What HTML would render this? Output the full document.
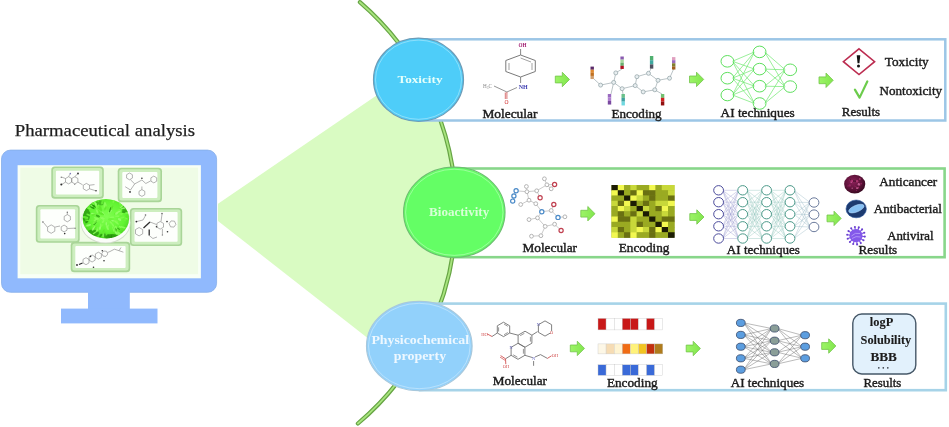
<!DOCTYPE html>
<html><head><meta charset="utf-8"><title>Pharmaceutical analysis</title>
<style>html,body{margin:0;padding:0;background:#fff;width:949px;height:427px;overflow:hidden}svg{display:block;filter:blur(0.35px)}</style>
</head><body>
<svg width="949" height="427" viewBox="0 0 949 427"><path d="M218,203.8 L416.0,68.5 A277.0,277.0 0 0 1 407.2,369.0 L218,221 Z" fill="#d9fbc2"/>
<path d="M359.9,2.2 A277.0,277.0 0 0 1 357.9,423.5" fill="none" stroke="#66a444" stroke-width="4.2" stroke-linecap="round"/>
<path d="M359.9,2.2 A277.0,277.0 0 0 1 357.9,423.5" fill="none" stroke="#a8e47e" stroke-width="1.8" stroke-linecap="round"/>
<rect x="420" y="39.3" width="525.3" height="81.2" fill="#fff" stroke="#9cc6e6" stroke-width="2.5"/>
<rect x="455" y="168.5" width="489.6" height="88.7" fill="#fff" stroke="#88d68a" stroke-width="2.6"/>
<rect x="420" y="303.6" width="525.8" height="86.6" fill="#fff" stroke="#a6d3e8" stroke-width="2.6"/>
<ellipse cx="418.5" cy="79.7" rx="45" ry="41.6" fill="#4ecdf9" stroke="#6c9cb8" stroke-width="1.2"/>
<ellipse cx="418.5" cy="79.7" rx="43" ry="39.6" fill="none" stroke="#ffffff" stroke-opacity="0.35" stroke-width="1"/>
<ellipse cx="454.3" cy="212.3" rx="50.7" ry="45.1" fill="#64fe65" stroke="#6cc070" stroke-width="1.2"/>
<ellipse cx="454.3" cy="212.3" rx="48.7" ry="43.1" fill="none" stroke="#ffffff" stroke-opacity="0.35" stroke-width="1"/>
<ellipse cx="419.3" cy="346.0" rx="52.8" ry="44.7" fill="#92d1fb" stroke="#a8c8dc" stroke-width="1.2"/>
<ellipse cx="419.3" cy="346.0" rx="50.8" ry="42.7" fill="none" stroke="#ffffff" stroke-opacity="0.35" stroke-width="1"/>
<text x="397.6" y="82.7" font-family="'Liberation Serif', serif" font-weight="bold" font-size="11.2" fill="#e6fffa" textLength="44.9" lengthAdjust="spacingAndGlyphs">Toxicity</text>
<text x="429.1" y="216.2" font-family="'Liberation Serif', serif" font-weight="bold" font-size="12.2" fill="#d8ffd6" textLength="60.1" lengthAdjust="spacingAndGlyphs">Bioactivity</text>
<text x="371.4" y="344.2" font-family="'Liberation Serif', serif" font-weight="bold" font-size="11.6" fill="#eef8ff" textLength="97.7" lengthAdjust="spacingAndGlyphs">Physicochemical</text>
<text x="393.7" y="359.5" font-family="'Liberation Serif', serif" font-weight="bold" font-size="11.6" fill="#eef8ff" textLength="52.5" lengthAdjust="spacingAndGlyphs">property</text>
<rect x="1.5" y="150.1" width="215.1" height="142.2" rx="9" fill="#90b9fd"/>
<rect x="1.5" y="150.1" width="215.1" height="142.2" rx="9" fill="none" stroke="#86aee8" stroke-width="0.8"/>
<rect x="88" y="291" width="41.8" height="18" fill="#90b9fd"/>
<rect x="61" y="308.6" width="96.5" height="14.8" fill="#90b9fd"/>
<rect x="17.6" y="165.2" width="183.3" height="113.1" fill="#f8fff6"/>
<rect x="20.3" y="167.6" width="177.8" height="106.6" fill="#effce6"/>
<text x="14.8" y="136.3" font-family="'Liberation Serif', serif" font-size="17" fill="#1e1e1e" stroke="#1e1e1e" stroke-width="0.25" textLength="180.2" lengthAdjust="spacingAndGlyphs">Pharmaceutical analysis</text>
<rect x="51.3" y="166.5" width="52.5" height="32.19999999999999" rx="3.5" fill="#a9d598"/>
<rect x="52.9" y="168.1" width="49.3" height="28.99999999999999" rx="2.5" fill="#cdeebf"/>
<rect x="55.9" y="170.7" width="43.3" height="23.79999999999999" rx="1" fill="#fdfffc"/>
<rect x="117.7" y="167.7" width="44.3" height="34.5" rx="3.5" fill="#a9d598"/>
<rect x="119.3" y="169.29999999999998" width="41.099999999999994" height="31.3" rx="2.5" fill="#cdeebf"/>
<rect x="122.3" y="171.89999999999998" width="35.099999999999994" height="26.1" rx="1" fill="#fdfffc"/>
<rect x="35.8" y="205" width="43.900000000000006" height="37.80000000000001" rx="3.5" fill="#a9d598"/>
<rect x="37.4" y="206.6" width="40.7" height="34.60000000000001" rx="2.5" fill="#cdeebf"/>
<rect x="40.4" y="209.2" width="34.7" height="29.400000000000013" rx="1" fill="#fdfffc"/>
<rect x="129.9" y="207.9" width="52.29999999999998" height="38.099999999999994" rx="3.5" fill="#a9d598"/>
<rect x="131.5" y="209.5" width="49.09999999999998" height="34.89999999999999" rx="2.5" fill="#cdeebf"/>
<rect x="134.5" y="212.1" width="43.09999999999998" height="29.699999999999996" rx="1" fill="#fdfffc"/>
<rect x="70.7" y="241.8" width="59.499999999999986" height="30.399999999999977" rx="3.5" fill="#a9d598"/>
<rect x="72.3" y="243.4" width="56.29999999999998" height="27.199999999999978" rx="2.5" fill="#cdeebf"/>
<rect x="75.3" y="246.0" width="50.29999999999998" height="21.99999999999998" rx="1" fill="#fdfffc"/>
<defs><linearGradient id="dish" x1="0" y1="0" x2="0" y2="1"><stop offset="0" stop-color="#f4f8f0"/><stop offset="0.6" stop-color="#eef2ea"/><stop offset="1" stop-color="#cfd8c8"/></linearGradient></defs>
<ellipse cx="105.6" cy="222.6" rx="25" ry="21" fill="#d2dccb"/>
<ellipse cx="105.6" cy="222.2" rx="24.4" ry="20.4" fill="#fafdf8"/>
<defs><radialGradient id="pl" cx="0.52" cy="0.45" r="0.6"><stop offset="0" stop-color="#80ff50"/><stop offset="0.65" stop-color="#62f432"/><stop offset="1" stop-color="#44cc1c"/></radialGradient></defs>
<ellipse cx="105.9" cy="218.8" rx="23.2" ry="19.7" fill="url(#pl)"/>
<clipPath id="plc"><ellipse cx="105.9" cy="218.8" rx="23.2" ry="19.7"/></clipPath>
<g clip-path="url(#plc)"><ellipse cx="86" cy="215" rx="4" ry="7" fill="#22900a" opacity="0.7"/><ellipse cx="93" cy="233" rx="6" ry="3.5" fill="#22900a" opacity="0.7"/><ellipse cx="112" cy="237" rx="7" ry="3" fill="#1e8606" opacity="0.7"/><ellipse cx="125" cy="209" rx="3" ry="4" fill="#2c9e12" opacity="0.7"/><ellipse cx="100" cy="203" rx="4" ry="2.5" fill="#34a818" opacity="0.7"/><ellipse cx="102.0" cy="225.4" rx="1.8" ry="0.9" transform="rotate(133 102.0 225.4)" fill="#7cfc48" opacity="0.85"/><ellipse cx="115.5" cy="213.2" rx="1.7" ry="0.8" transform="rotate(306 115.5 213.2)" fill="#5ee82a" opacity="0.85"/><ellipse cx="110.2" cy="211.7" rx="2.5" ry="0.8" transform="rotate(320 110.2 211.7)" fill="#9aff70" opacity="0.85"/><ellipse cx="112.0" cy="217.5" rx="2.5" ry="0.9" transform="rotate(347 112.0 217.5)" fill="#8cff5a" opacity="0.85"/><ellipse cx="88.5" cy="212.2" rx="2.2" ry="0.9" transform="rotate(209 88.5 212.2)" fill="#33a614" opacity="0.85"/><ellipse cx="112.1" cy="220.3" rx="2.1" ry="0.9" transform="rotate(19 112.1 220.3)" fill="#9aff70" opacity="0.85"/><ellipse cx="93.9" cy="221.4" rx="2.1" ry="0.8" transform="rotate(142 93.9 221.4)" fill="#6cf43a" opacity="0.85"/><ellipse cx="97.6" cy="229.2" rx="2.3" ry="1.0" transform="rotate(105 97.6 229.2)" fill="#7cfc48" opacity="0.85"/><ellipse cx="115.6" cy="229.5" rx="2.5" ry="1.0" transform="rotate(34 115.6 229.5)" fill="#33a614" opacity="0.85"/><ellipse cx="111.9" cy="207.6" rx="2.3" ry="1.0" transform="rotate(299 111.9 207.6)" fill="#5ee82a" opacity="0.85"/><ellipse cx="121.3" cy="213.6" rx="2.1" ry="0.9" transform="rotate(352 121.3 213.6)" fill="#7cfc48" opacity="0.85"/><ellipse cx="99.7" cy="206.2" rx="2.3" ry="0.7" transform="rotate(221 99.7 206.2)" fill="#8cff5a" opacity="0.85"/><ellipse cx="111.0" cy="221.9" rx="2.2" ry="1.1" transform="rotate(54 111.0 221.9)" fill="#6cf43a" opacity="0.85"/><ellipse cx="96.4" cy="218.4" rx="2.9" ry="1.0" transform="rotate(198 96.4 218.4)" fill="#8cff5a" opacity="0.85"/><ellipse cx="103.5" cy="230.8" rx="1.8" ry="0.7" transform="rotate(123 103.5 230.8)" fill="#5ee82a" opacity="0.85"/><ellipse cx="107.5" cy="227.9" rx="2.1" ry="0.7" transform="rotate(68 107.5 227.9)" fill="#9aff70" opacity="0.85"/><ellipse cx="88.5" cy="214.9" rx="2.4" ry="0.9" transform="rotate(202 88.5 214.9)" fill="#6cf43a" opacity="0.85"/><ellipse cx="103.4" cy="213.5" rx="2.2" ry="0.7" transform="rotate(238 103.4 213.5)" fill="#9aff70" opacity="0.85"/><ellipse cx="101.8" cy="214.0" rx="1.8" ry="0.9" transform="rotate(225 101.8 214.0)" fill="#6cf43a" opacity="0.85"/><ellipse cx="120.2" cy="227.1" rx="1.7" ry="0.7" transform="rotate(43 120.2 227.1)" fill="#8cff5a" opacity="0.85"/><ellipse cx="93.1" cy="229.2" rx="1.8" ry="1.0" transform="rotate(129 93.1 229.2)" fill="#9aff70" opacity="0.85"/><ellipse cx="122.1" cy="217.6" rx="2.8" ry="1.0" transform="rotate(340 122.1 217.6)" fill="#7cfc48" opacity="0.85"/><ellipse cx="87.2" cy="220.4" rx="2.4" ry="0.7" transform="rotate(195 87.2 220.4)" fill="#6cf43a" opacity="0.85"/><ellipse cx="101.4" cy="217.1" rx="2.0" ry="0.8" transform="rotate(205 101.4 217.1)" fill="#7cfc48" opacity="0.85"/><ellipse cx="116.3" cy="233.1" rx="2.0" ry="1.0" transform="rotate(52 116.3 233.1)" fill="#9aff70" opacity="0.85"/><ellipse cx="127.4" cy="216.5" rx="2.0" ry="0.9" transform="rotate(367 127.4 216.5)" fill="#5ee82a" opacity="0.85"/><ellipse cx="103.1" cy="221.6" rx="1.9" ry="0.9" transform="rotate(127 103.1 221.6)" fill="#8cff5a" opacity="0.85"/><ellipse cx="94.6" cy="232.8" rx="2.2" ry="0.7" transform="rotate(147 94.6 232.8)" fill="#8cff5a" opacity="0.85"/><ellipse cx="107.7" cy="227.1" rx="2.6" ry="0.6" transform="rotate(106 107.7 227.1)" fill="#9aff70" opacity="0.85"/><ellipse cx="117.8" cy="211.9" rx="2.9" ry="1.0" transform="rotate(348 117.8 211.9)" fill="#7cfc48" opacity="0.85"/><ellipse cx="96.1" cy="219.4" rx="3.1" ry="1.0" transform="rotate(151 96.1 219.4)" fill="#8cff5a" opacity="0.85"/><ellipse cx="86.8" cy="222.1" rx="1.8" ry="0.7" transform="rotate(150 86.8 222.1)" fill="#1e8c08" opacity="0.85"/><ellipse cx="123.3" cy="208.3" rx="2.7" ry="0.8" transform="rotate(350 123.3 208.3)" fill="#9aff70" opacity="0.85"/><ellipse cx="97.8" cy="215.9" rx="2.4" ry="1.1" transform="rotate(205 97.8 215.9)" fill="#33a614" opacity="0.85"/><ellipse cx="86.5" cy="225.6" rx="1.9" ry="0.9" transform="rotate(133 86.5 225.6)" fill="#6cf43a" opacity="0.85"/><ellipse cx="107.4" cy="206.9" rx="2.8" ry="1.0" transform="rotate(253 107.4 206.9)" fill="#6cf43a" opacity="0.85"/><ellipse cx="95.3" cy="203.1" rx="1.8" ry="0.9" transform="rotate(220 95.3 203.1)" fill="#9aff70" opacity="0.85"/><ellipse cx="120.4" cy="205.8" rx="2.4" ry="1.0" transform="rotate(298 120.4 205.8)" fill="#6cf43a" opacity="0.85"/><ellipse cx="93.6" cy="214.2" rx="2.8" ry="1.0" transform="rotate(199 93.6 214.2)" fill="#9aff70" opacity="0.85"/><ellipse cx="116.0" cy="221.3" rx="2.5" ry="1.0" transform="rotate(21 116.0 221.3)" fill="#7cfc48" opacity="0.85"/><ellipse cx="119.4" cy="211.3" rx="1.9" ry="0.7" transform="rotate(334 119.4 211.3)" fill="#9aff70" opacity="0.85"/><ellipse cx="85.5" cy="217.3" rx="3.0" ry="1.1" transform="rotate(193 85.5 217.3)" fill="#6cf43a" opacity="0.85"/><ellipse cx="105.2" cy="232.9" rx="1.8" ry="0.8" transform="rotate(75 105.2 232.9)" fill="#5ee82a" opacity="0.85"/><ellipse cx="116.6" cy="222.6" rx="3.0" ry="0.7" transform="rotate(40 116.6 222.6)" fill="#8cff5a" opacity="0.85"/><ellipse cx="102.2" cy="202.6" rx="2.0" ry="1.1" transform="rotate(281 102.2 202.6)" fill="#6cf43a" opacity="0.85"/><ellipse cx="93.2" cy="226.4" rx="2.3" ry="0.9" transform="rotate(126 93.2 226.4)" fill="#6cf43a" opacity="0.85"/><ellipse cx="100.6" cy="225.8" rx="2.5" ry="0.8" transform="rotate(98 100.6 225.8)" fill="#8cff5a" opacity="0.85"/><ellipse cx="119.6" cy="219.5" rx="1.8" ry="1.1" transform="rotate(30 119.6 219.5)" fill="#9aff70" opacity="0.85"/><ellipse cx="109.1" cy="236.4" rx="2.8" ry="0.7" transform="rotate(59 109.1 236.4)" fill="#26960c" opacity="0.85"/><ellipse cx="116.6" cy="227.6" rx="2.5" ry="0.9" transform="rotate(42 116.6 227.6)" fill="#8cff5a" opacity="0.85"/><ellipse cx="92.8" cy="218.6" rx="1.7" ry="1.1" transform="rotate(174 92.8 218.6)" fill="#6cf43a" opacity="0.85"/><ellipse cx="92.5" cy="205.1" rx="3.0" ry="0.8" transform="rotate(207 92.5 205.1)" fill="#1e8c08" opacity="0.85"/><ellipse cx="97.0" cy="230.6" rx="1.7" ry="1.0" transform="rotate(128 97.0 230.6)" fill="#8cff5a" opacity="0.85"/><ellipse cx="127.2" cy="210.9" rx="2.1" ry="0.8" transform="rotate(323 127.2 210.9)" fill="#6cf43a" opacity="0.85"/><ellipse cx="107.0" cy="207.4" rx="2.9" ry="1.1" transform="rotate(262 107.0 207.4)" fill="#6cf43a" opacity="0.85"/><ellipse cx="110.6" cy="219.1" rx="2.0" ry="0.8" transform="rotate(14 110.6 219.1)" fill="#6cf43a" opacity="0.85"/><ellipse cx="96.0" cy="204.9" rx="2.2" ry="0.9" transform="rotate(254 96.0 204.9)" fill="#9aff70" opacity="0.85"/><ellipse cx="97.5" cy="200.3" rx="2.2" ry="0.6" transform="rotate(243 97.5 200.3)" fill="#6cf43a" opacity="0.85"/><ellipse cx="110.9" cy="222.5" rx="1.7" ry="0.9" transform="rotate(43 110.9 222.5)" fill="#8cff5a" opacity="0.85"/><ellipse cx="94.1" cy="227.8" rx="2.1" ry="0.8" transform="rotate(124 94.1 227.8)" fill="#9aff70" opacity="0.85"/><ellipse cx="114.7" cy="229.2" rx="2.5" ry="0.7" transform="rotate(80 114.7 229.2)" fill="#8cff5a" opacity="0.85"/><ellipse cx="119.0" cy="215.8" rx="1.7" ry="0.7" transform="rotate(339 119.0 215.8)" fill="#7cfc48" opacity="0.85"/><ellipse cx="99.6" cy="209.9" rx="1.7" ry="0.8" transform="rotate(224 99.6 209.9)" fill="#7cfc48" opacity="0.85"/><ellipse cx="110.8" cy="219.2" rx="3.1" ry="1.0" transform="rotate(-6 110.8 219.2)" fill="#6cf43a" opacity="0.85"/><ellipse cx="118.4" cy="233.5" rx="2.1" ry="1.1" transform="rotate(50 118.4 233.5)" fill="#9aff70" opacity="0.85"/><ellipse cx="117.8" cy="231.7" rx="2.7" ry="0.9" transform="rotate(70 117.8 231.7)" fill="#7cfc48" opacity="0.85"/><ellipse cx="88.7" cy="225.3" rx="2.5" ry="1.0" transform="rotate(167 88.7 225.3)" fill="#9aff70" opacity="0.85"/><ellipse cx="125.2" cy="219.8" rx="1.7" ry="0.9" transform="rotate(-15 125.2 219.8)" fill="#6cf43a" opacity="0.85"/><ellipse cx="120.1" cy="215.1" rx="2.6" ry="0.9" transform="rotate(352 120.1 215.1)" fill="#7cfc48" opacity="0.85"/><ellipse cx="102.7" cy="218.4" rx="1.7" ry="0.9" transform="rotate(196 102.7 218.4)" fill="#9aff70" opacity="0.85"/><ellipse cx="105.8" cy="204.6" rx="2.8" ry="0.7" transform="rotate(255 105.8 204.6)" fill="#8cff5a" opacity="0.85"/><ellipse cx="96.9" cy="207.3" rx="2.7" ry="1.0" transform="rotate(233 96.9 207.3)" fill="#7cfc48" opacity="0.85"/><ellipse cx="92.4" cy="207.6" rx="2.6" ry="0.9" transform="rotate(214 92.4 207.6)" fill="#1e8c08" opacity="0.85"/><ellipse cx="99.7" cy="213.0" rx="2.7" ry="0.9" transform="rotate(212 99.7 213.0)" fill="#5ee82a" opacity="0.85"/><ellipse cx="100.5" cy="208.6" rx="2.8" ry="1.1" transform="rotate(242 100.5 208.6)" fill="#5ee82a" opacity="0.85"/><ellipse cx="93.7" cy="214.8" rx="2.3" ry="1.0" transform="rotate(174 93.7 214.8)" fill="#5ee82a" opacity="0.85"/><ellipse cx="121.5" cy="215.6" rx="3.1" ry="0.6" transform="rotate(369 121.5 215.6)" fill="#6cf43a" opacity="0.85"/><ellipse cx="123.0" cy="227.3" rx="2.9" ry="0.9" transform="rotate(14 123.0 227.3)" fill="#8cff5a" opacity="0.85"/><ellipse cx="120.9" cy="207.5" rx="1.9" ry="1.1" transform="rotate(314 120.9 207.5)" fill="#5ee82a" opacity="0.85"/><ellipse cx="100.0" cy="206.7" rx="2.1" ry="1.0" transform="rotate(238 100.0 206.7)" fill="#5ee82a" opacity="0.85"/><ellipse cx="126.2" cy="218.4" rx="1.9" ry="0.6" transform="rotate(23 126.2 218.4)" fill="#7cfc48" opacity="0.85"/><ellipse cx="105.4" cy="208.1" rx="2.5" ry="0.8" transform="rotate(291 105.4 208.1)" fill="#5ee82a" opacity="0.85"/><ellipse cx="95.1" cy="222.8" rx="2.7" ry="0.9" transform="rotate(132 95.1 222.8)" fill="#1e8c08" opacity="0.85"/><ellipse cx="119.7" cy="233.7" rx="2.2" ry="1.1" transform="rotate(38 119.7 233.7)" fill="#8cff5a" opacity="0.85"/><ellipse cx="121.7" cy="206.5" rx="2.8" ry="0.6" transform="rotate(321 121.7 206.5)" fill="#9aff70" opacity="0.85"/><ellipse cx="104.5" cy="205.0" rx="3.1" ry="0.9" transform="rotate(263 104.5 205.0)" fill="#8cff5a" opacity="0.85"/><ellipse cx="113.4" cy="229.4" rx="3.2" ry="0.7" transform="rotate(73 113.4 229.4)" fill="#8cff5a" opacity="0.85"/><ellipse cx="99.0" cy="209.1" rx="2.6" ry="0.6" transform="rotate(217 99.0 209.1)" fill="#5ee82a" opacity="0.85"/><ellipse cx="85.4" cy="218.1" rx="3.2" ry="0.8" transform="rotate(201 85.4 218.1)" fill="#5ee82a" opacity="0.85"/><ellipse cx="112.9" cy="225.1" rx="2.1" ry="0.8" transform="rotate(53 112.9 225.1)" fill="#8cff5a" opacity="0.85"/><ellipse cx="110.1" cy="209.7" rx="2.8" ry="0.7" transform="rotate(286 110.1 209.7)" fill="#26960c" opacity="0.85"/><ellipse cx="103.7" cy="235.1" rx="1.8" ry="0.9" transform="rotate(121 103.7 235.1)" fill="#9aff70" opacity="0.85"/><ellipse cx="91.5" cy="205.0" rx="2.2" ry="0.9" transform="rotate(247 91.5 205.0)" fill="#8cff5a" opacity="0.85"/><ellipse cx="94.3" cy="222.8" rx="2.3" ry="1.0" transform="rotate(137 94.3 222.8)" fill="#7cfc48" opacity="0.85"/><ellipse cx="113.8" cy="200.1" rx="3.1" ry="1.0" transform="rotate(284 113.8 200.1)" fill="#7cfc48" opacity="0.85"/><ellipse cx="120.2" cy="203.0" rx="1.8" ry="1.1" transform="rotate(294 120.2 203.0)" fill="#7cfc48" opacity="0.85"/><ellipse cx="122.4" cy="229.4" rx="2.8" ry="0.6" transform="rotate(18 122.4 229.4)" fill="#5ee82a" opacity="0.85"/><ellipse cx="118.5" cy="228.8" rx="1.8" ry="0.7" transform="rotate(35 118.5 228.8)" fill="#33a614" opacity="0.85"/><ellipse cx="93.6" cy="205.8" rx="3.1" ry="0.7" transform="rotate(219 93.6 205.8)" fill="#1e8c08" opacity="0.85"/><ellipse cx="104.8" cy="235.6" rx="2.3" ry="1.1" transform="rotate(84 104.8 235.6)" fill="#33a614" opacity="0.85"/><ellipse cx="92.9" cy="203.7" rx="1.6" ry="0.8" transform="rotate(234 92.9 203.7)" fill="#6cf43a" opacity="0.85"/><ellipse cx="102.5" cy="213.9" rx="2.0" ry="0.8" transform="rotate(213 102.5 213.9)" fill="#5ee82a" opacity="0.85"/><ellipse cx="95.0" cy="228.3" rx="2.2" ry="0.6" transform="rotate(126 95.0 228.3)" fill="#5ee82a" opacity="0.85"/><ellipse cx="100.7" cy="235.6" rx="2.1" ry="1.0" transform="rotate(129 100.7 235.6)" fill="#26960c" opacity="0.85"/><ellipse cx="107.5" cy="227.6" rx="2.6" ry="0.9" transform="rotate(64 107.5 227.6)" fill="#8cff5a" opacity="0.85"/><ellipse cx="119.1" cy="209.9" rx="1.8" ry="0.8" transform="rotate(345 119.1 209.9)" fill="#7cfc48" opacity="0.85"/><ellipse cx="111.4" cy="237.0" rx="1.9" ry="0.8" transform="rotate(87 111.4 237.0)" fill="#1e8c08" opacity="0.85"/><ellipse cx="103.1" cy="207.3" rx="2.1" ry="0.7" transform="rotate(278 103.1 207.3)" fill="#7cfc48" opacity="0.85"/><ellipse cx="124.5" cy="211.6" rx="2.9" ry="1.1" transform="rotate(348 124.5 211.6)" fill="#33a614" opacity="0.85"/><ellipse cx="98.5" cy="220.7" rx="3.1" ry="0.7" transform="rotate(152 98.5 220.7)" fill="#7cfc48" opacity="0.85"/><ellipse cx="116.8" cy="216.1" rx="2.3" ry="0.6" transform="rotate(363 116.8 216.1)" fill="#8cff5a" opacity="0.85"/><ellipse cx="92.1" cy="220.2" rx="2.8" ry="0.8" transform="rotate(162 92.1 220.2)" fill="#6cf43a" opacity="0.85"/><ellipse cx="98.2" cy="210.8" rx="1.7" ry="0.6" transform="rotate(204 98.2 210.8)" fill="#5ee82a" opacity="0.85"/><ellipse cx="116.7" cy="213.3" rx="2.0" ry="1.1" transform="rotate(323 116.7 213.3)" fill="#9aff70" opacity="0.85"/><ellipse cx="97.2" cy="211.3" rx="2.1" ry="1.0" transform="rotate(243 97.2 211.3)" fill="#8cff5a" opacity="0.85"/><ellipse cx="89.1" cy="208.3" rx="2.0" ry="0.8" transform="rotate(191 89.1 208.3)" fill="#7cfc48" opacity="0.85"/><ellipse cx="127.9" cy="213.1" rx="2.9" ry="0.7" transform="rotate(365 127.9 213.1)" fill="#8cff5a" opacity="0.85"/><ellipse cx="102.3" cy="218.3" rx="2.8" ry="0.9" transform="rotate(195 102.3 218.3)" fill="#8cff5a" opacity="0.85"/><ellipse cx="100.0" cy="228.2" rx="1.9" ry="1.0" transform="rotate(97 100.0 228.2)" fill="#9aff70" opacity="0.85"/><ellipse cx="106.3" cy="223.8" rx="1.9" ry="0.8" transform="rotate(91 106.3 223.8)" fill="#9aff70" opacity="0.85"/></g>
<polygon points="68.6,183.9 65.5,182.1 65.5,178.5 68.6,176.7 71.7,178.5 71.7,182.1" fill="none" stroke="#767676" stroke-width="0.55"/>
<polygon points="74.8,183.9 71.7,182.1 71.7,178.5 74.8,176.7 77.9,178.5 77.9,182.1" fill="none" stroke="#767676" stroke-width="0.55"/>
<line x1="78" y1="182.2" x2="82.6" y2="184.8" stroke="#767676" stroke-width="0.55"/>
<polygon points="86.4,190.6 83.3,188.8 83.3,185.2 86.4,183.4 89.5,185.2 89.5,188.8" fill="none" stroke="#767676" stroke-width="0.55"/>
<line x1="65.5" y1="178.5" x2="62" y2="177.2" stroke="#767676" stroke-width="0.55"/>
<circle cx="61.3" cy="177.2" r="0.7" fill="#777"/>
<line x1="65.5" y1="182.1" x2="62" y2="184.3" stroke="#767676" stroke-width="0.55"/>
<circle cx="61.3" cy="184.6" r="1.0" fill="#2e2e2e"/>
<line x1="68.6" y1="176.7" x2="70" y2="174" stroke="#8a8a8a" stroke-width="0.55"/>
<circle cx="70.3" cy="173.6" r="0.8" fill="#7a7ab8"/>
<line x1="74.8" y1="176.7" x2="77.5" y2="174" stroke="#767676" stroke-width="0.55"/>
<circle cx="78" cy="173.5" r="0.9" fill="#2e2e2e"/>
<line x1="89.5" y1="185.2" x2="94.5" y2="184.6" stroke="#767676" stroke-width="0.55"/>
<line x1="89.5" y1="188.8" x2="95.5" y2="190.7" stroke="#767676" stroke-width="0.55"/>
<circle cx="96" cy="190.8" r="0.8" fill="#2e2e2e"/>
<circle cx="74.8" cy="184.3" r="0.6" fill="#777"/>
<polygon points="129.5,179.8 126.6,178.1 126.6,174.7 129.5,173.0 132.4,174.7 132.4,178.1" fill="none" stroke="#767676" stroke-width="0.55"/>
<line x1="130.5" y1="179.8" x2="134.7" y2="183.9" stroke="#767676" stroke-width="0.55"/>
<line x1="134.7" y1="183.9" x2="141.9" y2="180" stroke="#767676" stroke-width="0.55"/>
<circle cx="141.9" cy="178.3" r="0.8" fill="#2e2e2e"/>
<line x1="141.9" y1="180" x2="145.8" y2="183.5" stroke="#767676" stroke-width="0.55"/>
<line x1="145.8" y1="183.5" x2="150.5" y2="181" stroke="#767676" stroke-width="0.55"/>
<polygon points="153.8,182.9 150.9,181.2 150.9,177.8 153.8,176.1 156.7,177.8 156.7,181.2" fill="none" stroke="#767676" stroke-width="0.55"/>
<line x1="134.7" y1="183.9" x2="130.5" y2="190" stroke="#767676" stroke-width="0.55"/>
<circle cx="130" cy="191.9" r="0.9" fill="#2e2e2e"/>
<line x1="130.5" y1="190" x2="125.2" y2="186.7" stroke="#767676" stroke-width="0.55"/>
<polygon points="141.9,196.4 139.0,194.7 139.0,191.3 141.9,189.6 144.8,191.3 144.8,194.7" fill="none" stroke="#767676" stroke-width="0.55"/>
<line x1="141.9" y1="186.5" x2="141.9" y2="189.6" stroke="#767676" stroke-width="0.55"/>
<polygon points="51.2,233.3 47.6,231.2 47.6,227.0 51.2,224.9 54.8,227.0 54.8,231.2" fill="none" stroke="#767676" stroke-width="0.55"/>
<line x1="55.2" y1="227" x2="60" y2="226" stroke="#767676" stroke-width="0.55"/>
<polygon points="64.1,225.1 67.0,226.8 67.0,230.2 64.1,231.9 61.2,230.2 61.2,226.8" fill="none" stroke="#767676" stroke-width="0.55"/>
<polygon points="67.3,221.8 64.2,220.0 64.2,216.4 67.3,214.6 70.4,216.4 70.4,220.0" fill="none" stroke="#767676" stroke-width="0.55"/>
<line x1="47.2" y1="227" x2="43.5" y2="222.5" stroke="#767676" stroke-width="0.55"/>
<circle cx="42.9" cy="222" r="0.8" fill="#666"/>
<line x1="67.5" y1="228.5" x2="74" y2="228.2" stroke="#767676" stroke-width="0.55"/>
<circle cx="75" cy="228.2" r="0.7" fill="#666"/>
<circle cx="64.7" cy="233.6" r="0.8" fill="#2e2e2e"/>
<circle cx="67.3" cy="212.2" r="0.7" fill="#666"/>
<line x1="67.3" y1="214.6" x2="67.3" y2="212.8" stroke="#767676" stroke-width="0.55"/>
<line x1="136.4" y1="221.6" x2="143" y2="220" stroke="#767676" stroke-width="0.55"/>
<line x1="143" y1="220" x2="145.5" y2="215.5" stroke="#767676" stroke-width="0.55"/>
<circle cx="145.5" cy="215" r="0.8" fill="#666"/>
<circle cx="136.4" cy="221.6" r="0.9" fill="#2e2e2e"/>
<polygon points="139.1,235.9 135.5,233.8 135.5,229.6 139.1,227.5 142.7,229.6 142.7,233.8" fill="none" stroke="#767676" stroke-width="0.55"/>
<line x1="143.5" y1="228" x2="150" y2="222" stroke="#2e2e2e" stroke-width="1.3"/>
<line x1="150" y1="222" x2="156.5" y2="224.5" stroke="#767676" stroke-width="0.55"/>
<polygon points="160.2,229.1 156.9,227.2 156.9,223.4 160.2,221.5 163.5,223.4 163.5,227.2" fill="none" stroke="#767676" stroke-width="0.55"/>
<circle cx="156.5" cy="226.7" r="0.8" fill="#2e2e2e"/>
<line x1="161" y1="221.5" x2="162" y2="214.2" stroke="#767676" stroke-width="0.55"/>
<circle cx="162" cy="213.6" r="0.8" fill="#666"/>
<circle cx="167" cy="221.6" r="0.8" fill="#2e2e2e"/>
<polygon points="174.5,221.2 175.9,224.4 173.9,227.1 170.5,226.8 169.1,223.6 171.1,220.9" fill="none" stroke="#767676" stroke-width="0.55"/>
<circle cx="167.5" cy="231.7" r="0.8" fill="#2e2e2e"/>
<line x1="162.4" y1="229" x2="162.4" y2="234" stroke="#767676" stroke-width="0.55"/>
<circle cx="162.4" cy="234.9" r="0.7" fill="#666"/>
<line x1="149.2" y1="229.5" x2="149.2" y2="235.5" stroke="#2e2e2e" stroke-width="1.3"/>
<line x1="149.2" y1="235.5" x2="152.9" y2="238.5" stroke="#767676" stroke-width="0.55"/>
<line x1="152.9" y1="238.5" x2="157" y2="237" stroke="#767676" stroke-width="0.55"/>
<polygon points="86.0,264.7 83.0,262.9 83.0,259.4 86.0,257.7 89.0,259.4 89.0,262.9" fill="none" stroke="#767676" stroke-width="0.55"/>
<polygon points="92.1,262.0 89.1,260.2 89.1,256.8 92.1,255.0 95.1,256.8 95.1,260.2" fill="none" stroke="#767676" stroke-width="0.55"/>
<polygon points="98.4,259.2 95.4,257.4 95.4,253.9 98.4,252.2 101.4,253.9 101.4,257.4" fill="none" stroke="#767676" stroke-width="0.55"/>
<polygon points="106.6,251.3 107.8,254.0 106.0,256.4 103.0,256.1 101.8,253.4 103.6,251.0" fill="none" stroke="#767676" stroke-width="0.55"/>
<line x1="107.5" y1="252.5" x2="110" y2="251.5" stroke="#767676" stroke-width="0.55"/>
<line x1="110" y1="251.5" x2="114.4" y2="249.2" stroke="#767676" stroke-width="0.55"/>
<line x1="114.4" y1="249.2" x2="119" y2="250.7" stroke="#767676" stroke-width="0.55"/>
<line x1="119" y1="250.7" x2="123.4" y2="252.2" stroke="#767676" stroke-width="0.55"/>
<line x1="119" y1="250.7" x2="121" y2="247.5" stroke="#767676" stroke-width="0.55"/>
<line x1="82.5" y1="263" x2="79" y2="264.5" stroke="#2e2e2e" stroke-width="1.2"/>
<circle cx="77" cy="265" r="0.9" fill="#2e2e2e"/>
<circle cx="102.3" cy="250.7" r="0.8" fill="#2e2e2e"/>
<circle cx="104" cy="260.7" r="0.8" fill="#2e2e2e"/>
<circle cx="93.5" cy="267.2" r="0.8" fill="#2e2e2e"/>
<circle cx="90.5" cy="256.4" r="0.8" fill="#2e2e2e"/>
<defs><linearGradient id="arg" x1="0" y1="0" x2="1" y2="0"><stop offset="0" stop-color="#9cf466"/><stop offset="1" stop-color="#82e64e"/></linearGradient></defs>
<path d="M555.3,76.1 h7 v-3.8 l7.2,7.2 l-7.2,7.2 v-3.8 h-7 z" fill="url(#arg)" stroke="#72c44a" stroke-width="0.8" stroke-linejoin="round"/>
<path d="M689.5,76.0 h7 v-3.8 l7.2,7.2 l-7.2,7.2 v-3.8 h-7 z" fill="url(#arg)" stroke="#72c44a" stroke-width="0.8" stroke-linejoin="round"/>
<path d="M819,76.89999999999999 h7 v-3.8 l7.2,7.2 l-7.2,7.2 v-3.8 h-7 z" fill="url(#arg)" stroke="#72c44a" stroke-width="0.8" stroke-linejoin="round"/>
<path d="M580.8,210.29999999999998 h7 v-3.8 l7.2,7.2 l-7.2,7.2 v-3.8 h-7 z" fill="url(#arg)" stroke="#72c44a" stroke-width="0.8" stroke-linejoin="round"/>
<path d="M689.8,213.6 h7 v-3.8 l7.2,7.2 l-7.2,7.2 v-3.8 h-7 z" fill="url(#arg)" stroke="#72c44a" stroke-width="0.8" stroke-linejoin="round"/>
<path d="M827,215.0 h7 v-3.8 l7.2,7.2 l-7.2,7.2 v-3.8 h-7 z" fill="url(#arg)" stroke="#72c44a" stroke-width="0.8" stroke-linejoin="round"/>
<path d="M570.3,345.0 h7 v-3.8 l7.2,7.2 l-7.2,7.2 v-3.8 h-7 z" fill="url(#arg)" stroke="#72c44a" stroke-width="0.8" stroke-linejoin="round"/>
<path d="M686.2,345.1 h7 v-3.8 l7.2,7.2 l-7.2,7.2 v-3.8 h-7 z" fill="url(#arg)" stroke="#72c44a" stroke-width="0.8" stroke-linejoin="round"/>
<path d="M821.7,342.6 h7 v-3.8 l7.2,7.2 l-7.2,7.2 v-3.8 h-7 z" fill="url(#arg)" stroke="#72c44a" stroke-width="0.8" stroke-linejoin="round"/>
<text x="482.4" y="117.5" font-family="'Liberation Serif', serif" font-size="12.0" font-weight="normal" fill="#1c1c1c" stroke="#1c1c1c" stroke-width="0.4" textLength="55" lengthAdjust="spacingAndGlyphs">Molecular</text>
<text x="611.5" y="117.5" font-family="'Liberation Serif', serif" font-size="12.0" font-weight="normal" fill="#1c1c1c" stroke="#1c1c1c" stroke-width="0.4" textLength="50.1" lengthAdjust="spacingAndGlyphs">Encoding</text>
<text x="720.6" y="116.8" font-family="'Liberation Serif', serif" font-size="12.0" font-weight="normal" fill="#1c1c1c" stroke="#1c1c1c" stroke-width="0.4" textLength="74.1" lengthAdjust="spacingAndGlyphs">AI techniques</text>
<text x="841.8" y="115.8" font-family="'Liberation Serif', serif" font-size="12.2" font-weight="normal" fill="#1c1c1c" stroke="#1c1c1c" stroke-width="0.4" textLength="38.3" lengthAdjust="spacingAndGlyphs">Results</text>
<text x="884.8" y="65.5" font-family="'Liberation Serif', serif" font-size="12.5" font-weight="normal" fill="#1c1c1c" stroke="#1c1c1c" stroke-width="0.4" textLength="43.9" lengthAdjust="spacingAndGlyphs">Toxicity</text>
<text x="879.5" y="94.5" font-family="'Liberation Serif', serif" font-size="12.5" font-weight="normal" fill="#1c1c1c" stroke="#1c1c1c" stroke-width="0.4" textLength="62.6" lengthAdjust="spacingAndGlyphs">Nontoxicity</text>
<text x="522.5" y="252.2" font-family="'Liberation Serif', serif" font-size="12.0" font-weight="normal" fill="#1c1c1c" stroke="#1c1c1c" stroke-width="0.4" textLength="54.5" lengthAdjust="spacingAndGlyphs">Molecular</text>
<text x="618.8" y="252" font-family="'Liberation Serif', serif" font-size="12.0" font-weight="normal" fill="#1c1c1c" stroke="#1c1c1c" stroke-width="0.4" textLength="50.6" lengthAdjust="spacingAndGlyphs">Encoding</text>
<text x="726.8" y="253.5" font-family="'Liberation Serif', serif" font-size="12.0" font-weight="normal" fill="#1c1c1c" stroke="#1c1c1c" stroke-width="0.4" textLength="73.1" lengthAdjust="spacingAndGlyphs">AI techniques</text>
<text x="858.6" y="254" font-family="'Liberation Serif', serif" font-size="12.2" font-weight="normal" fill="#1c1c1c" stroke="#1c1c1c" stroke-width="0.4" textLength="38.6" lengthAdjust="spacingAndGlyphs">Results</text>
<text x="879.3" y="186.2" font-family="'Liberation Serif', serif" font-size="12.2" font-weight="normal" fill="#1c1c1c" stroke="#1c1c1c" stroke-width="0.4" textLength="57.9" lengthAdjust="spacingAndGlyphs">Anticancer</text>
<text x="873.8" y="213" font-family="'Liberation Serif', serif" font-size="12.2" font-weight="normal" fill="#1c1c1c" stroke="#1c1c1c" stroke-width="0.4" textLength="68" lengthAdjust="spacingAndGlyphs">Antibacterial</text>
<text x="887.2" y="240.4" font-family="'Liberation Serif', serif" font-size="12.2" font-weight="normal" fill="#1c1c1c" stroke="#1c1c1c" stroke-width="0.4" textLength="46.3" lengthAdjust="spacingAndGlyphs">Antiviral</text>
<text x="492.7" y="385.2" font-family="'Liberation Serif', serif" font-size="12.0" font-weight="normal" fill="#1c1c1c" stroke="#1c1c1c" stroke-width="0.4" textLength="54.2" lengthAdjust="spacingAndGlyphs">Molecular</text>
<text x="606.9" y="386.7" font-family="'Liberation Serif', serif" font-size="12.0" font-weight="normal" fill="#1c1c1c" stroke="#1c1c1c" stroke-width="0.4" textLength="50.8" lengthAdjust="spacingAndGlyphs">Encoding</text>
<text x="730.7" y="386.8" font-family="'Liberation Serif', serif" font-size="12.0" font-weight="normal" fill="#1c1c1c" stroke="#1c1c1c" stroke-width="0.4" textLength="73.5" lengthAdjust="spacingAndGlyphs">AI techniques</text>
<text x="863.4" y="386.7" font-family="'Liberation Serif', serif" font-size="12.2" font-weight="normal" fill="#1c1c1c" stroke="#1c1c1c" stroke-width="0.4" textLength="37.9" lengthAdjust="spacingAndGlyphs">Results</text>
<polygon points="520.6,55 535.3,60.5 535.3,71.5 520.6,77 505.8,71.5 505.8,60.5" fill="none" stroke="#7a7a7a" stroke-width="1.0"/>
<line x1="509" y1="63" x2="509" y2="70" stroke="#7a7a7a" stroke-width="0.7"/>
<line x1="532" y1="63" x2="532" y2="70" stroke="#7a7a7a" stroke-width="0.7"/>
<line x1="520.6" y1="58" x2="531" y2="62" stroke="#7a7a7a" stroke-width="0.7"/>
<line x1="520.6" y1="55" x2="520.6" y2="49" stroke="#7a7a7a" stroke-width="0.9"/>
<line x1="520.6" y1="77" x2="520.6" y2="83" stroke="#7a7a7a" stroke-width="0.9"/>
<text x="522.6" y="47.2" font-family="'Liberation Serif', serif" font-size="6.2" font-weight="bold" fill="#a01c70" text-anchor="middle" textLength="8" lengthAdjust="spacingAndGlyphs">OH</text>
<text x="523.2" y="88.8" font-family="'Liberation Serif', serif" font-size="6" font-weight="bold" fill="#3c3cb0" text-anchor="middle" textLength="9" lengthAdjust="spacingAndGlyphs">NH</text>
<text x="487.5" y="88" font-family="'Liberation Serif', serif" font-size="5.2" fill="#888" text-anchor="middle">H<tspan font-size="3.5" dy="1">3</tspan><tspan dy="-1">C</tspan></text>
<line x1="494" y1="86" x2="506.9" y2="92" stroke="#7a7a7a" stroke-width="0.8"/>
<line x1="506.9" y1="92" x2="517" y2="87.5" stroke="#7a7a7a" stroke-width="0.8"/>
<line x1="506.9" y1="92" x2="506.9" y2="99" stroke="#d05050" stroke-width="0.8"/>
<line x1="505.3" y1="92.5" x2="505.3" y2="99" stroke="#d05050" stroke-width="0.8"/>
<text x="506.5" y="104" font-family="'Liberation Serif', serif" font-size="5.5" fill="#d02020" text-anchor="middle">O</text>
<line x1="600.6" y1="85.1" x2="613.7" y2="82.4" stroke="#a8b4b8" stroke-width="0.8"/>
<line x1="613.7" y1="82.4" x2="615.8" y2="72.9" stroke="#a8b4b8" stroke-width="0.8"/>
<line x1="613.7" y1="82.4" x2="622.1" y2="88.7" stroke="#a8b4b8" stroke-width="0.8"/>
<line x1="622.1" y1="88.7" x2="635.2" y2="85.6" stroke="#a8b4b8" stroke-width="0.8"/>
<line x1="635.2" y1="85.6" x2="636.9" y2="76.7" stroke="#a8b4b8" stroke-width="0.8"/>
<line x1="636.9" y1="76.7" x2="648.5" y2="73.3" stroke="#a8b4b8" stroke-width="0.8"/>
<line x1="648.5" y1="73.3" x2="658" y2="80.3" stroke="#a8b4b8" stroke-width="0.8"/>
<line x1="658" y1="80.3" x2="654.8" y2="89.8" stroke="#a8b4b8" stroke-width="0.8"/>
<line x1="654.8" y1="89.8" x2="643.2" y2="91.9" stroke="#a8b4b8" stroke-width="0.8"/>
<line x1="643.2" y1="91.9" x2="635.2" y2="85.6" stroke="#a8b4b8" stroke-width="0.8"/>
<line x1="658" y1="80.3" x2="669.5" y2="78.2" stroke="#a8b4b8" stroke-width="0.8"/>
<line x1="669.5" y1="78.2" x2="673.7" y2="69" stroke="#a8b4b8" stroke-width="0.8"/>
<line x1="600.6" y1="85.1" x2="594" y2="79" stroke="#a8b4b8" stroke-width="0.8"/>
<line x1="622.1" y1="88.7" x2="623" y2="94" stroke="#a8b4b8" stroke-width="0.8"/>
<line x1="613.7" y1="82.4" x2="611" y2="94" stroke="#a8b4b8" stroke-width="0.8"/>
<line x1="654.8" y1="89.8" x2="662" y2="94" stroke="#a8b4b8" stroke-width="0.8"/>
<line x1="615.8" y1="72.9" x2="622" y2="69" stroke="#a8b4b8" stroke-width="0.8"/>
<line x1="648.5" y1="73.3" x2="651" y2="68.7" stroke="#a8b4b8" stroke-width="0.8"/>
<circle cx="600.6" cy="85.1" r="2" fill="#e8eef0" stroke="#98a8ac" stroke-width="0.8"/>
<circle cx="613.7" cy="82.4" r="2" fill="#e8eef0" stroke="#98a8ac" stroke-width="0.8"/>
<circle cx="615.8" cy="72.9" r="2" fill="#e8eef0" stroke="#98a8ac" stroke-width="0.8"/>
<circle cx="622.1" cy="88.7" r="2" fill="#e8eef0" stroke="#98a8ac" stroke-width="0.8"/>
<circle cx="635.2" cy="85.6" r="2" fill="#e8eef0" stroke="#98a8ac" stroke-width="0.8"/>
<circle cx="636.9" cy="76.7" r="2" fill="#e8eef0" stroke="#98a8ac" stroke-width="0.8"/>
<circle cx="648.5" cy="73.3" r="2" fill="#e8eef0" stroke="#98a8ac" stroke-width="0.8"/>
<circle cx="658" cy="80.3" r="2" fill="#e8eef0" stroke="#98a8ac" stroke-width="0.8"/>
<circle cx="654.8" cy="89.8" r="2" fill="#e8eef0" stroke="#98a8ac" stroke-width="0.8"/>
<circle cx="643.2" cy="91.9" r="2" fill="#e8eef0" stroke="#98a8ac" stroke-width="0.8"/>
<circle cx="669.5" cy="78.2" r="2" fill="#e8eef0" stroke="#98a8ac" stroke-width="0.8"/>
<rect x="590.5" y="66.6" width="3.4" height="3.15" fill="#5a2a6a"/>
<rect x="590.5" y="69.7" width="3.4" height="3.15" fill="#e08a30"/>
<rect x="590.5" y="72.8" width="3.4" height="3.15" fill="#c07020"/>
<rect x="590.5" y="75.9" width="3.4" height="3.15" fill="#d0a070"/>
<rect x="620.4" y="56.5" width="3.4" height="3.15" fill="#8a5ab0"/>
<rect x="620.4" y="59.6" width="3.4" height="3.15" fill="#a8d8a0"/>
<rect x="620.4" y="62.7" width="3.4" height="3.15" fill="#6ab070"/>
<rect x="620.4" y="65.8" width="3.4" height="3.15" fill="#b01020"/>
<rect x="607.8" y="94.0" width="3.4" height="3.55" fill="#9a6ac0"/>
<rect x="607.8" y="97.5" width="3.4" height="3.55" fill="#b080d0"/>
<rect x="607.8" y="101.0" width="3.4" height="3.55" fill="#7a4aa0"/>
<rect x="621.5" y="94.0" width="3.4" height="3.85" fill="#6ac08a"/>
<rect x="621.5" y="97.8" width="3.4" height="3.85" fill="#40a0a0"/>
<rect x="621.5" y="101.6" width="3.4" height="3.85" fill="#70d8e0"/>
<rect x="649.9" y="56.0" width="3.4" height="4.25" fill="#50b070"/>
<rect x="649.9" y="60.2" width="3.4" height="4.25" fill="#40a8a0"/>
<rect x="649.9" y="64.4" width="3.4" height="4.25" fill="#505060"/>
<rect x="672.0" y="57.1" width="3.4" height="3.15" fill="#e0a0c0"/>
<rect x="672.0" y="60.2" width="3.4" height="3.15" fill="#9a6ac0"/>
<rect x="672.0" y="63.3" width="3.4" height="3.15" fill="#808030"/>
<rect x="672.0" y="66.4" width="3.4" height="3.15" fill="#a06020"/>
<rect x="660.9" y="94.0" width="3.4" height="3.85" fill="#70c070"/>
<rect x="660.9" y="97.8" width="3.4" height="3.85" fill="#d02020"/>
<rect x="660.9" y="101.6" width="3.4" height="3.85" fill="#901010"/>
<line x1="732.4" y1="61.3" x2="754.6" y2="51.9" stroke="#6ee86e" stroke-width="0.7"/>
<line x1="732.4" y1="61.3" x2="754.6" y2="69.1" stroke="#6ee86e" stroke-width="0.7"/>
<line x1="732.4" y1="61.3" x2="754.6" y2="86.2" stroke="#6ee86e" stroke-width="0.7"/>
<line x1="732.4" y1="61.3" x2="754.6" y2="103.5" stroke="#6ee86e" stroke-width="0.7"/>
<line x1="732.4" y1="78.2" x2="754.6" y2="51.9" stroke="#6ee86e" stroke-width="0.7"/>
<line x1="732.4" y1="78.2" x2="754.6" y2="69.1" stroke="#6ee86e" stroke-width="0.7"/>
<line x1="732.4" y1="78.2" x2="754.6" y2="86.2" stroke="#6ee86e" stroke-width="0.7"/>
<line x1="732.4" y1="78.2" x2="754.6" y2="103.5" stroke="#6ee86e" stroke-width="0.7"/>
<line x1="732.4" y1="95" x2="754.6" y2="51.9" stroke="#6ee86e" stroke-width="0.7"/>
<line x1="732.4" y1="95" x2="754.6" y2="69.1" stroke="#6ee86e" stroke-width="0.7"/>
<line x1="732.4" y1="95" x2="754.6" y2="86.2" stroke="#6ee86e" stroke-width="0.7"/>
<line x1="732.4" y1="95" x2="754.6" y2="103.5" stroke="#6ee86e" stroke-width="0.7"/>
<line x1="764.6" y1="51.9" x2="785.2" y2="69.8" stroke="#6ee86e" stroke-width="0.7"/>
<line x1="764.6" y1="51.9" x2="785.2" y2="86.6" stroke="#6ee86e" stroke-width="0.7"/>
<line x1="764.6" y1="69.1" x2="785.2" y2="69.8" stroke="#6ee86e" stroke-width="0.7"/>
<line x1="764.6" y1="69.1" x2="785.2" y2="86.6" stroke="#6ee86e" stroke-width="0.7"/>
<line x1="764.6" y1="86.2" x2="785.2" y2="69.8" stroke="#6ee86e" stroke-width="0.7"/>
<line x1="764.6" y1="86.2" x2="785.2" y2="86.6" stroke="#6ee86e" stroke-width="0.7"/>
<line x1="764.6" y1="103.5" x2="785.2" y2="69.8" stroke="#6ee86e" stroke-width="0.7"/>
<line x1="764.6" y1="103.5" x2="785.2" y2="86.6" stroke="#6ee86e" stroke-width="0.7"/>
<ellipse cx="727.4" cy="61.3" rx="6.4" ry="5.8" fill="#fff" fill-opacity="0.6" stroke="#5ee05e" stroke-width="1"/>
<ellipse cx="727.4" cy="78.2" rx="6.4" ry="5.8" fill="#fff" fill-opacity="0.6" stroke="#5ee05e" stroke-width="1"/>
<ellipse cx="727.4" cy="95" rx="6.4" ry="5.8" fill="#fff" fill-opacity="0.6" stroke="#5ee05e" stroke-width="1"/>
<ellipse cx="759.6" cy="51.9" rx="6.4" ry="5.8" fill="#fff" fill-opacity="0.6" stroke="#5ee05e" stroke-width="1"/>
<ellipse cx="759.6" cy="69.1" rx="6.4" ry="5.8" fill="#fff" fill-opacity="0.6" stroke="#5ee05e" stroke-width="1"/>
<ellipse cx="759.6" cy="86.2" rx="6.4" ry="5.8" fill="#fff" fill-opacity="0.6" stroke="#5ee05e" stroke-width="1"/>
<ellipse cx="759.6" cy="103.5" rx="6.4" ry="5.8" fill="#fff" fill-opacity="0.6" stroke="#5ee05e" stroke-width="1"/>
<ellipse cx="790.2" cy="69.8" rx="6.4" ry="5.8" fill="#fff" fill-opacity="0.6" stroke="#5ee05e" stroke-width="1"/>
<ellipse cx="790.2" cy="86.6" rx="6.4" ry="5.8" fill="#fff" fill-opacity="0.6" stroke="#5ee05e" stroke-width="1"/>
<path d="M859,48.9 L874.6,61.7 L859,74.5 L843.4,61.7 Z" fill="#fff" stroke="#bc2c50" stroke-width="1.6" stroke-linejoin="miter"/>
<path d="M856.7,55.2 h3.6 l-0.9,8 h-1.8 z" fill="#111"/><circle cx="858.5" cy="65.9" r="1.5" fill="#111"/>
<path d="M854.9,89.6 L859.6,97.6 L867.3,81.5" fill="none" stroke="#6ccc4c" stroke-width="2.2" stroke-linecap="round" stroke-linejoin="round"/>
<line x1="516.1" y1="190.8" x2="526.9" y2="191.7" stroke="#c4c4c4" stroke-width="0.9"/>
<line x1="526.9" y1="191.7" x2="526.4" y2="186.5" stroke="#c4c4c4" stroke-width="0.9"/>
<line x1="526.9" y1="191.7" x2="536.7" y2="190.8" stroke="#c4c4c4" stroke-width="0.9"/>
<line x1="536.7" y1="190.8" x2="546.9" y2="184.8" stroke="#c4c4c4" stroke-width="0.9"/>
<line x1="546.9" y1="184.8" x2="544.4" y2="178.8" stroke="#c4c4c4" stroke-width="0.9"/>
<line x1="546.9" y1="184.8" x2="554.6" y2="184.5" stroke="#c4c4c4" stroke-width="0.9"/>
<line x1="546.9" y1="184.8" x2="551.2" y2="188.8" stroke="#c4c4c4" stroke-width="0.9"/>
<line x1="536.7" y1="190.8" x2="540.1" y2="197.7" stroke="#c4c4c4" stroke-width="0.9"/>
<line x1="526.9" y1="191.7" x2="529" y2="200.2" stroke="#c4c4c4" stroke-width="0.9"/>
<line x1="529" y1="200.2" x2="535.8" y2="203.7" stroke="#c4c4c4" stroke-width="0.9"/>
<line x1="529" y1="200.2" x2="520.7" y2="204.5" stroke="#c4c4c4" stroke-width="0.9"/>
<line x1="535.8" y1="203.7" x2="541.8" y2="211.7" stroke="#c4c4c4" stroke-width="0.9"/>
<line x1="541.8" y1="211.7" x2="551.2" y2="210.5" stroke="#c4c4c4" stroke-width="0.9"/>
<line x1="551.2" y1="210.5" x2="553.8" y2="204.5" stroke="#c4c4c4" stroke-width="0.9"/>
<line x1="551.2" y1="210.5" x2="558" y2="217.4" stroke="#c4c4c4" stroke-width="0.9"/>
<line x1="558" y1="217.4" x2="564.9" y2="216.8" stroke="#c4c4c4" stroke-width="0.9"/>
<line x1="541.8" y1="211.7" x2="537.5" y2="217.9" stroke="#c4c4c4" stroke-width="0.9"/>
<line x1="537.5" y1="217.9" x2="529" y2="219.6" stroke="#c4c4c4" stroke-width="0.9"/>
<line x1="537.5" y1="217.9" x2="545.2" y2="226.4" stroke="#c4c4c4" stroke-width="0.9"/>
<line x1="545.2" y1="226.4" x2="554.6" y2="224.2" stroke="#c4c4c4" stroke-width="0.9"/>
<line x1="554.6" y1="224.2" x2="561.1" y2="230.5" stroke="#c4c4c4" stroke-width="0.9"/>
<line x1="545.2" y1="226.4" x2="540.9" y2="235.7" stroke="#c4c4c4" stroke-width="0.9"/>
<line x1="540.9" y1="235.7" x2="531.5" y2="236.2" stroke="#c4c4c4" stroke-width="0.9"/>
<line x1="516.1" y1="190.8" x2="513.9" y2="196" stroke="#c4c4c4" stroke-width="0.9"/>
<line x1="513.9" y1="196" x2="512.7" y2="201.1" stroke="#c4c4c4" stroke-width="0.9"/>
<circle cx="544.4" cy="178.8" r="1.9" fill="#fff" stroke="#b4b4b4" stroke-width="1"/>
<circle cx="546.9" cy="184.8" r="1.9" fill="#fff" stroke="#b4b4b4" stroke-width="1"/>
<circle cx="551.2" cy="188.8" r="1.9" fill="#fff" stroke="#b4b4b4" stroke-width="1"/>
<circle cx="526.4" cy="186.5" r="1.9" fill="#fff" stroke="#b4b4b4" stroke-width="1"/>
<circle cx="526.9" cy="191.7" r="1.9" fill="#fff" stroke="#b4b4b4" stroke-width="1"/>
<circle cx="536.7" cy="190.8" r="1.9" fill="#fff" stroke="#b4b4b4" stroke-width="1"/>
<circle cx="529" cy="200.2" r="1.9" fill="#fff" stroke="#b4b4b4" stroke-width="1"/>
<circle cx="535.8" cy="203.7" r="1.9" fill="#fff" stroke="#b4b4b4" stroke-width="1"/>
<circle cx="520.7" cy="204.5" r="1.9" fill="#fff" stroke="#b4b4b4" stroke-width="1"/>
<circle cx="551.2" cy="210.5" r="1.9" fill="#fff" stroke="#b4b4b4" stroke-width="1"/>
<circle cx="537.5" cy="217.9" r="1.9" fill="#fff" stroke="#b4b4b4" stroke-width="1"/>
<circle cx="529" cy="219.6" r="1.9" fill="#fff" stroke="#b4b4b4" stroke-width="1"/>
<circle cx="545.2" cy="226.4" r="1.9" fill="#fff" stroke="#b4b4b4" stroke-width="1"/>
<circle cx="554.6" cy="224.2" r="1.9" fill="#fff" stroke="#b4b4b4" stroke-width="1"/>
<circle cx="540.9" cy="235.7" r="1.9" fill="#fff" stroke="#b4b4b4" stroke-width="1"/>
<circle cx="531.5" cy="236.2" r="1.9" fill="#fff" stroke="#b4b4b4" stroke-width="1"/>
<circle cx="564.9" cy="216.8" r="1.9" fill="#fff" stroke="#b4b4b4" stroke-width="1"/>
<circle cx="516.1" cy="190.8" r="2.1" fill="#fff" stroke="#4a8ac8" stroke-width="1.2"/>
<circle cx="513.9" cy="196" r="2.1" fill="#fff" stroke="#4a8ac8" stroke-width="1.2"/>
<circle cx="512.7" cy="201.1" r="2.1" fill="#fff" stroke="#4a8ac8" stroke-width="1.2"/>
<circle cx="541.8" cy="211.7" r="2.1" fill="#fff" stroke="#4a8ac8" stroke-width="1.2"/>
<circle cx="558" cy="217.4" r="2.1" fill="#fff" stroke="#4a8ac8" stroke-width="1.2"/>
<circle cx="554.6" cy="184.5" r="2.1" fill="#fff" stroke="#c04050" stroke-width="1.2"/>
<circle cx="540.1" cy="197.7" r="2.1" fill="#fff" stroke="#c04050" stroke-width="1.2"/>
<circle cx="553.8" cy="204.5" r="2.1" fill="#fff" stroke="#c04050" stroke-width="1.2"/>
<circle cx="561.1" cy="230.5" r="2.1" fill="#fff" stroke="#c04050" stroke-width="1.2"/>
<rect x="611.5" y="185" width="62.80" height="52.50" fill="#9aaa22"/>
<rect x="611.50" y="185.00" width="6.63" height="5.60" fill="#1c1c04"/>
<rect x="617.78" y="185.00" width="6.63" height="5.60" fill="#f2f850"/>
<rect x="624.06" y="185.00" width="6.63" height="5.60" fill="#9aaa22"/>
<rect x="630.34" y="185.00" width="6.63" height="5.60" fill="#c8d83a"/>
<rect x="636.62" y="185.00" width="6.63" height="5.60" fill="#9aaa22"/>
<rect x="642.90" y="185.00" width="6.63" height="5.60" fill="#9aaa22"/>
<rect x="649.18" y="185.00" width="6.63" height="5.60" fill="#f2f850"/>
<rect x="655.46" y="185.00" width="6.63" height="5.60" fill="#9aaa22"/>
<rect x="661.74" y="185.00" width="6.63" height="5.60" fill="#c8d83a"/>
<rect x="668.02" y="185.00" width="6.63" height="5.60" fill="#c8d83a"/>
<rect x="611.50" y="190.25" width="6.63" height="5.60" fill="#f2f850"/>
<rect x="617.78" y="190.25" width="6.63" height="5.60" fill="#1c1c04"/>
<rect x="624.06" y="190.25" width="6.63" height="5.60" fill="#9aaa22"/>
<rect x="630.34" y="190.25" width="6.63" height="5.60" fill="#6a7012"/>
<rect x="636.62" y="190.25" width="6.63" height="5.60" fill="#f2f850"/>
<rect x="642.90" y="190.25" width="6.63" height="5.60" fill="#6a7012"/>
<rect x="649.18" y="190.25" width="6.63" height="5.60" fill="#6a7012"/>
<rect x="655.46" y="190.25" width="6.63" height="5.60" fill="#9aaa22"/>
<rect x="661.74" y="190.25" width="6.63" height="5.60" fill="#9aaa22"/>
<rect x="668.02" y="190.25" width="6.63" height="5.60" fill="#c8d83a"/>
<rect x="611.50" y="195.50" width="6.63" height="5.60" fill="#9aaa22"/>
<rect x="617.78" y="195.50" width="6.63" height="5.60" fill="#9aaa22"/>
<rect x="624.06" y="195.50" width="6.63" height="5.60" fill="#1c1c04"/>
<rect x="630.34" y="195.50" width="6.63" height="5.60" fill="#f2f850"/>
<rect x="636.62" y="195.50" width="6.63" height="5.60" fill="#c8d83a"/>
<rect x="642.90" y="195.50" width="6.63" height="5.60" fill="#9aaa22"/>
<rect x="649.18" y="195.50" width="6.63" height="5.60" fill="#6a7012"/>
<rect x="655.46" y="195.50" width="6.63" height="5.60" fill="#9aaa22"/>
<rect x="661.74" y="195.50" width="6.63" height="5.60" fill="#9aaa22"/>
<rect x="668.02" y="195.50" width="6.63" height="5.60" fill="#6a7012"/>
<rect x="611.50" y="200.75" width="6.63" height="5.60" fill="#c8d83a"/>
<rect x="617.78" y="200.75" width="6.63" height="5.60" fill="#6a7012"/>
<rect x="624.06" y="200.75" width="6.63" height="5.60" fill="#f2f850"/>
<rect x="630.34" y="200.75" width="6.63" height="5.60" fill="#1c1c04"/>
<rect x="636.62" y="200.75" width="6.63" height="5.60" fill="#9aaa22"/>
<rect x="642.90" y="200.75" width="6.63" height="5.60" fill="#6a7012"/>
<rect x="649.18" y="200.75" width="6.63" height="5.60" fill="#9aaa22"/>
<rect x="655.46" y="200.75" width="6.63" height="5.60" fill="#c8d83a"/>
<rect x="661.74" y="200.75" width="6.63" height="5.60" fill="#c8d83a"/>
<rect x="668.02" y="200.75" width="6.63" height="5.60" fill="#f2f850"/>
<rect x="611.50" y="206.00" width="6.63" height="5.60" fill="#9aaa22"/>
<rect x="617.78" y="206.00" width="6.63" height="5.60" fill="#f2f850"/>
<rect x="624.06" y="206.00" width="6.63" height="5.60" fill="#c8d83a"/>
<rect x="630.34" y="206.00" width="6.63" height="5.60" fill="#9aaa22"/>
<rect x="636.62" y="206.00" width="6.63" height="5.60" fill="#1c1c04"/>
<rect x="642.90" y="206.00" width="6.63" height="5.60" fill="#c8d83a"/>
<rect x="649.18" y="206.00" width="6.63" height="5.60" fill="#9aaa22"/>
<rect x="655.46" y="206.00" width="6.63" height="5.60" fill="#6a7012"/>
<rect x="661.74" y="206.00" width="6.63" height="5.60" fill="#f2f850"/>
<rect x="668.02" y="206.00" width="6.63" height="5.60" fill="#9aaa22"/>
<rect x="611.50" y="211.25" width="6.63" height="5.60" fill="#9aaa22"/>
<rect x="617.78" y="211.25" width="6.63" height="5.60" fill="#6a7012"/>
<rect x="624.06" y="211.25" width="6.63" height="5.60" fill="#9aaa22"/>
<rect x="630.34" y="211.25" width="6.63" height="5.60" fill="#6a7012"/>
<rect x="636.62" y="211.25" width="6.63" height="5.60" fill="#c8d83a"/>
<rect x="642.90" y="211.25" width="6.63" height="5.60" fill="#1c1c04"/>
<rect x="649.18" y="211.25" width="6.63" height="5.60" fill="#9aaa22"/>
<rect x="655.46" y="211.25" width="6.63" height="5.60" fill="#9aaa22"/>
<rect x="661.74" y="211.25" width="6.63" height="5.60" fill="#c8d83a"/>
<rect x="668.02" y="211.25" width="6.63" height="5.60" fill="#9aaa22"/>
<rect x="611.50" y="216.50" width="6.63" height="5.60" fill="#f2f850"/>
<rect x="617.78" y="216.50" width="6.63" height="5.60" fill="#6a7012"/>
<rect x="624.06" y="216.50" width="6.63" height="5.60" fill="#6a7012"/>
<rect x="630.34" y="216.50" width="6.63" height="5.60" fill="#c8d83a"/>
<rect x="636.62" y="216.50" width="6.63" height="5.60" fill="#9aaa22"/>
<rect x="642.90" y="216.50" width="6.63" height="5.60" fill="#9aaa22"/>
<rect x="649.18" y="216.50" width="6.63" height="5.60" fill="#1c1c04"/>
<rect x="655.46" y="216.50" width="6.63" height="5.60" fill="#9aaa22"/>
<rect x="661.74" y="216.50" width="6.63" height="5.60" fill="#6a7012"/>
<rect x="668.02" y="216.50" width="6.63" height="5.60" fill="#6a7012"/>
<rect x="611.50" y="221.75" width="6.63" height="5.60" fill="#9aaa22"/>
<rect x="617.78" y="221.75" width="6.63" height="5.60" fill="#9aaa22"/>
<rect x="624.06" y="221.75" width="6.63" height="5.60" fill="#9aaa22"/>
<rect x="630.34" y="221.75" width="6.63" height="5.60" fill="#c8d83a"/>
<rect x="636.62" y="221.75" width="6.63" height="5.60" fill="#6a7012"/>
<rect x="642.90" y="221.75" width="6.63" height="5.60" fill="#9aaa22"/>
<rect x="649.18" y="221.75" width="6.63" height="5.60" fill="#9aaa22"/>
<rect x="655.46" y="221.75" width="6.63" height="5.60" fill="#1c1c04"/>
<rect x="661.74" y="221.75" width="6.63" height="5.60" fill="#f2f850"/>
<rect x="668.02" y="221.75" width="6.63" height="5.60" fill="#9aaa22"/>
<rect x="611.50" y="227.00" width="6.63" height="5.60" fill="#c8d83a"/>
<rect x="617.78" y="227.00" width="6.63" height="5.60" fill="#6a7012"/>
<rect x="624.06" y="227.00" width="6.63" height="5.60" fill="#9aaa22"/>
<rect x="630.34" y="227.00" width="6.63" height="5.60" fill="#c8d83a"/>
<rect x="636.62" y="227.00" width="6.63" height="5.60" fill="#f2f850"/>
<rect x="642.90" y="227.00" width="6.63" height="5.60" fill="#c8d83a"/>
<rect x="649.18" y="227.00" width="6.63" height="5.60" fill="#6a7012"/>
<rect x="655.46" y="227.00" width="6.63" height="5.60" fill="#f2f850"/>
<rect x="661.74" y="227.00" width="6.63" height="5.60" fill="#1c1c04"/>
<rect x="668.02" y="227.00" width="6.63" height="5.60" fill="#9aaa22"/>
<rect x="611.50" y="232.25" width="6.63" height="5.60" fill="#f2f850"/>
<rect x="617.78" y="232.25" width="6.63" height="5.60" fill="#9aaa22"/>
<rect x="624.06" y="232.25" width="6.63" height="5.60" fill="#6a7012"/>
<rect x="630.34" y="232.25" width="6.63" height="5.60" fill="#f2f850"/>
<rect x="636.62" y="232.25" width="6.63" height="5.60" fill="#9aaa22"/>
<rect x="642.90" y="232.25" width="6.63" height="5.60" fill="#9aaa22"/>
<rect x="649.18" y="232.25" width="6.63" height="5.60" fill="#6a7012"/>
<rect x="655.46" y="232.25" width="6.63" height="5.60" fill="#9aaa22"/>
<rect x="661.74" y="232.25" width="6.63" height="5.60" fill="#9aaa22"/>
<rect x="668.02" y="232.25" width="6.63" height="5.60" fill="#1c1c04"/>
<line x1="722.6" y1="190.3" x2="738.7" y2="190.3" stroke="#9a9ad0" stroke-width="0.4"/>
<line x1="722.6" y1="190.3" x2="738.7" y2="202.2" stroke="#9a9ad0" stroke-width="0.4"/>
<line x1="722.6" y1="190.3" x2="738.7" y2="214.2" stroke="#9a9ad0" stroke-width="0.4"/>
<line x1="722.6" y1="190.3" x2="738.7" y2="226.3" stroke="#9a9ad0" stroke-width="0.4"/>
<line x1="722.6" y1="190.3" x2="738.7" y2="238.5" stroke="#9a9ad0" stroke-width="0.4"/>
<line x1="722.6" y1="202.2" x2="738.7" y2="190.3" stroke="#9a9ad0" stroke-width="0.4"/>
<line x1="722.6" y1="202.2" x2="738.7" y2="202.2" stroke="#9a9ad0" stroke-width="0.4"/>
<line x1="722.6" y1="202.2" x2="738.7" y2="214.2" stroke="#9a9ad0" stroke-width="0.4"/>
<line x1="722.6" y1="202.2" x2="738.7" y2="226.3" stroke="#9a9ad0" stroke-width="0.4"/>
<line x1="722.6" y1="202.2" x2="738.7" y2="238.5" stroke="#9a9ad0" stroke-width="0.4"/>
<line x1="722.6" y1="214.2" x2="738.7" y2="190.3" stroke="#9a9ad0" stroke-width="0.4"/>
<line x1="722.6" y1="214.2" x2="738.7" y2="202.2" stroke="#9a9ad0" stroke-width="0.4"/>
<line x1="722.6" y1="214.2" x2="738.7" y2="214.2" stroke="#9a9ad0" stroke-width="0.4"/>
<line x1="722.6" y1="214.2" x2="738.7" y2="226.3" stroke="#9a9ad0" stroke-width="0.4"/>
<line x1="722.6" y1="214.2" x2="738.7" y2="238.5" stroke="#9a9ad0" stroke-width="0.4"/>
<line x1="722.6" y1="226.3" x2="738.7" y2="190.3" stroke="#9a9ad0" stroke-width="0.4"/>
<line x1="722.6" y1="226.3" x2="738.7" y2="202.2" stroke="#9a9ad0" stroke-width="0.4"/>
<line x1="722.6" y1="226.3" x2="738.7" y2="214.2" stroke="#9a9ad0" stroke-width="0.4"/>
<line x1="722.6" y1="226.3" x2="738.7" y2="226.3" stroke="#9a9ad0" stroke-width="0.4"/>
<line x1="722.6" y1="226.3" x2="738.7" y2="238.5" stroke="#9a9ad0" stroke-width="0.4"/>
<line x1="722.6" y1="238.5" x2="738.7" y2="190.3" stroke="#9a9ad0" stroke-width="0.4"/>
<line x1="722.6" y1="238.5" x2="738.7" y2="202.2" stroke="#9a9ad0" stroke-width="0.4"/>
<line x1="722.6" y1="238.5" x2="738.7" y2="214.2" stroke="#9a9ad0" stroke-width="0.4"/>
<line x1="722.6" y1="238.5" x2="738.7" y2="226.3" stroke="#9a9ad0" stroke-width="0.4"/>
<line x1="722.6" y1="238.5" x2="738.7" y2="238.5" stroke="#9a9ad0" stroke-width="0.4"/>
<line x1="746.7" y1="190.3" x2="762.6" y2="190.3" stroke="#90c4bc" stroke-width="0.4"/>
<line x1="746.7" y1="190.3" x2="762.6" y2="202.2" stroke="#90c4bc" stroke-width="0.4"/>
<line x1="746.7" y1="190.3" x2="762.6" y2="214.2" stroke="#90c4bc" stroke-width="0.4"/>
<line x1="746.7" y1="190.3" x2="762.6" y2="226.3" stroke="#90c4bc" stroke-width="0.4"/>
<line x1="746.7" y1="190.3" x2="762.6" y2="238.5" stroke="#90c4bc" stroke-width="0.4"/>
<line x1="746.7" y1="202.2" x2="762.6" y2="190.3" stroke="#90c4bc" stroke-width="0.4"/>
<line x1="746.7" y1="202.2" x2="762.6" y2="202.2" stroke="#90c4bc" stroke-width="0.4"/>
<line x1="746.7" y1="202.2" x2="762.6" y2="214.2" stroke="#90c4bc" stroke-width="0.4"/>
<line x1="746.7" y1="202.2" x2="762.6" y2="226.3" stroke="#90c4bc" stroke-width="0.4"/>
<line x1="746.7" y1="202.2" x2="762.6" y2="238.5" stroke="#90c4bc" stroke-width="0.4"/>
<line x1="746.7" y1="214.2" x2="762.6" y2="190.3" stroke="#90c4bc" stroke-width="0.4"/>
<line x1="746.7" y1="214.2" x2="762.6" y2="202.2" stroke="#90c4bc" stroke-width="0.4"/>
<line x1="746.7" y1="214.2" x2="762.6" y2="214.2" stroke="#90c4bc" stroke-width="0.4"/>
<line x1="746.7" y1="214.2" x2="762.6" y2="226.3" stroke="#90c4bc" stroke-width="0.4"/>
<line x1="746.7" y1="214.2" x2="762.6" y2="238.5" stroke="#90c4bc" stroke-width="0.4"/>
<line x1="746.7" y1="226.3" x2="762.6" y2="190.3" stroke="#90c4bc" stroke-width="0.4"/>
<line x1="746.7" y1="226.3" x2="762.6" y2="202.2" stroke="#90c4bc" stroke-width="0.4"/>
<line x1="746.7" y1="226.3" x2="762.6" y2="214.2" stroke="#90c4bc" stroke-width="0.4"/>
<line x1="746.7" y1="226.3" x2="762.6" y2="226.3" stroke="#90c4bc" stroke-width="0.4"/>
<line x1="746.7" y1="226.3" x2="762.6" y2="238.5" stroke="#90c4bc" stroke-width="0.4"/>
<line x1="746.7" y1="238.5" x2="762.6" y2="190.3" stroke="#90c4bc" stroke-width="0.4"/>
<line x1="746.7" y1="238.5" x2="762.6" y2="202.2" stroke="#90c4bc" stroke-width="0.4"/>
<line x1="746.7" y1="238.5" x2="762.6" y2="214.2" stroke="#90c4bc" stroke-width="0.4"/>
<line x1="746.7" y1="238.5" x2="762.6" y2="226.3" stroke="#90c4bc" stroke-width="0.4"/>
<line x1="746.7" y1="238.5" x2="762.6" y2="238.5" stroke="#90c4bc" stroke-width="0.4"/>
<line x1="770.6" y1="190.3" x2="786" y2="190.3" stroke="#90c4bc" stroke-width="0.4"/>
<line x1="770.6" y1="190.3" x2="786" y2="202.2" stroke="#90c4bc" stroke-width="0.4"/>
<line x1="770.6" y1="190.3" x2="786" y2="214.2" stroke="#90c4bc" stroke-width="0.4"/>
<line x1="770.6" y1="190.3" x2="786" y2="226.3" stroke="#90c4bc" stroke-width="0.4"/>
<line x1="770.6" y1="190.3" x2="786" y2="238.5" stroke="#90c4bc" stroke-width="0.4"/>
<line x1="770.6" y1="202.2" x2="786" y2="190.3" stroke="#90c4bc" stroke-width="0.4"/>
<line x1="770.6" y1="202.2" x2="786" y2="202.2" stroke="#90c4bc" stroke-width="0.4"/>
<line x1="770.6" y1="202.2" x2="786" y2="214.2" stroke="#90c4bc" stroke-width="0.4"/>
<line x1="770.6" y1="202.2" x2="786" y2="226.3" stroke="#90c4bc" stroke-width="0.4"/>
<line x1="770.6" y1="202.2" x2="786" y2="238.5" stroke="#90c4bc" stroke-width="0.4"/>
<line x1="770.6" y1="214.2" x2="786" y2="190.3" stroke="#90c4bc" stroke-width="0.4"/>
<line x1="770.6" y1="214.2" x2="786" y2="202.2" stroke="#90c4bc" stroke-width="0.4"/>
<line x1="770.6" y1="214.2" x2="786" y2="214.2" stroke="#90c4bc" stroke-width="0.4"/>
<line x1="770.6" y1="214.2" x2="786" y2="226.3" stroke="#90c4bc" stroke-width="0.4"/>
<line x1="770.6" y1="214.2" x2="786" y2="238.5" stroke="#90c4bc" stroke-width="0.4"/>
<line x1="770.6" y1="226.3" x2="786" y2="190.3" stroke="#90c4bc" stroke-width="0.4"/>
<line x1="770.6" y1="226.3" x2="786" y2="202.2" stroke="#90c4bc" stroke-width="0.4"/>
<line x1="770.6" y1="226.3" x2="786" y2="214.2" stroke="#90c4bc" stroke-width="0.4"/>
<line x1="770.6" y1="226.3" x2="786" y2="226.3" stroke="#90c4bc" stroke-width="0.4"/>
<line x1="770.6" y1="226.3" x2="786" y2="238.5" stroke="#90c4bc" stroke-width="0.4"/>
<line x1="770.6" y1="238.5" x2="786" y2="190.3" stroke="#90c4bc" stroke-width="0.4"/>
<line x1="770.6" y1="238.5" x2="786" y2="202.2" stroke="#90c4bc" stroke-width="0.4"/>
<line x1="770.6" y1="238.5" x2="786" y2="214.2" stroke="#90c4bc" stroke-width="0.4"/>
<line x1="770.6" y1="238.5" x2="786" y2="226.3" stroke="#90c4bc" stroke-width="0.4"/>
<line x1="770.6" y1="238.5" x2="786" y2="238.5" stroke="#90c4bc" stroke-width="0.4"/>
<line x1="794" y1="190.3" x2="810" y2="202.5" stroke="#98b8c4" stroke-width="0.4"/>
<line x1="794" y1="190.3" x2="810" y2="214.6" stroke="#98b8c4" stroke-width="0.4"/>
<line x1="794" y1="190.3" x2="810" y2="227" stroke="#98b8c4" stroke-width="0.4"/>
<line x1="794" y1="202.2" x2="810" y2="202.5" stroke="#98b8c4" stroke-width="0.4"/>
<line x1="794" y1="202.2" x2="810" y2="214.6" stroke="#98b8c4" stroke-width="0.4"/>
<line x1="794" y1="202.2" x2="810" y2="227" stroke="#98b8c4" stroke-width="0.4"/>
<line x1="794" y1="214.2" x2="810" y2="202.5" stroke="#98b8c4" stroke-width="0.4"/>
<line x1="794" y1="214.2" x2="810" y2="214.6" stroke="#98b8c4" stroke-width="0.4"/>
<line x1="794" y1="214.2" x2="810" y2="227" stroke="#98b8c4" stroke-width="0.4"/>
<line x1="794" y1="226.3" x2="810" y2="202.5" stroke="#98b8c4" stroke-width="0.4"/>
<line x1="794" y1="226.3" x2="810" y2="214.6" stroke="#98b8c4" stroke-width="0.4"/>
<line x1="794" y1="226.3" x2="810" y2="227" stroke="#98b8c4" stroke-width="0.4"/>
<line x1="794" y1="238.5" x2="810" y2="202.5" stroke="#98b8c4" stroke-width="0.4"/>
<line x1="794" y1="238.5" x2="810" y2="214.6" stroke="#98b8c4" stroke-width="0.4"/>
<line x1="794" y1="238.5" x2="810" y2="227" stroke="#98b8c4" stroke-width="0.4"/>
<ellipse cx="718.6" cy="190.3" rx="4.9" ry="4.7" fill="#fff" stroke="#4c4c9c" stroke-width="1"/>
<ellipse cx="718.6" cy="202.2" rx="4.9" ry="4.7" fill="#fff" stroke="#4c4c9c" stroke-width="1"/>
<ellipse cx="718.6" cy="214.2" rx="4.9" ry="4.7" fill="#fff" stroke="#4c4c9c" stroke-width="1"/>
<ellipse cx="718.6" cy="226.3" rx="4.9" ry="4.7" fill="#fff" stroke="#4c4c9c" stroke-width="1"/>
<ellipse cx="718.6" cy="238.5" rx="4.9" ry="4.7" fill="#fff" stroke="#4c4c9c" stroke-width="1"/>
<ellipse cx="742.7" cy="190.3" rx="4.9" ry="4.7" fill="#fff" stroke="#4c9a8a" stroke-width="1"/>
<ellipse cx="742.7" cy="202.2" rx="4.9" ry="4.7" fill="#fff" stroke="#4c9a8a" stroke-width="1"/>
<ellipse cx="742.7" cy="214.2" rx="4.9" ry="4.7" fill="#fff" stroke="#4c9a8a" stroke-width="1"/>
<ellipse cx="742.7" cy="226.3" rx="4.9" ry="4.7" fill="#fff" stroke="#4c9a8a" stroke-width="1"/>
<ellipse cx="742.7" cy="238.5" rx="4.9" ry="4.7" fill="#fff" stroke="#4c9a8a" stroke-width="1"/>
<ellipse cx="766.6" cy="190.3" rx="4.9" ry="4.7" fill="#fff" stroke="#4c9a8a" stroke-width="1"/>
<ellipse cx="766.6" cy="202.2" rx="4.9" ry="4.7" fill="#fff" stroke="#4c9a8a" stroke-width="1"/>
<ellipse cx="766.6" cy="214.2" rx="4.9" ry="4.7" fill="#fff" stroke="#4c9a8a" stroke-width="1"/>
<ellipse cx="766.6" cy="226.3" rx="4.9" ry="4.7" fill="#fff" stroke="#4c9a8a" stroke-width="1"/>
<ellipse cx="766.6" cy="238.5" rx="4.9" ry="4.7" fill="#fff" stroke="#4c9a8a" stroke-width="1"/>
<ellipse cx="790" cy="190.3" rx="4.9" ry="4.7" fill="#fff" stroke="#4c9a8a" stroke-width="1"/>
<ellipse cx="790" cy="202.2" rx="4.9" ry="4.7" fill="#fff" stroke="#4c9a8a" stroke-width="1"/>
<ellipse cx="790" cy="214.2" rx="4.9" ry="4.7" fill="#fff" stroke="#4c9a8a" stroke-width="1"/>
<ellipse cx="790" cy="226.3" rx="4.9" ry="4.7" fill="#fff" stroke="#4c9a8a" stroke-width="1"/>
<ellipse cx="790" cy="238.5" rx="4.9" ry="4.7" fill="#fff" stroke="#4c9a8a" stroke-width="1"/>
<ellipse cx="814" cy="202.5" rx="4.9" ry="4.7" fill="#fff" stroke="#6a7a9c" stroke-width="1"/>
<ellipse cx="814" cy="214.6" rx="4.9" ry="4.7" fill="#fff" stroke="#6a7a9c" stroke-width="1"/>
<ellipse cx="814" cy="227" rx="4.9" ry="4.7" fill="#fff" stroke="#6a7a9c" stroke-width="1"/>
<defs><radialGradient id="ca" cx="0.42" cy="0.38" r="0.62"><stop offset="0" stop-color="#8a2058"/><stop offset="0.65" stop-color="#5c1238"/><stop offset="1" stop-color="#3a0a22"/></radialGradient></defs>
<ellipse cx="854.7" cy="184.1" rx="10.6" ry="9.4" fill="url(#ca)"/>
<circle cx="849.8" cy="185.4" r="1.2" fill="#a02868" opacity="0.7"/>
<circle cx="848.0" cy="186.0" r="0.7" fill="#a02868" opacity="0.7"/>
<circle cx="850.1" cy="179.8" r="0.7" fill="#2a0618" opacity="0.7"/>
<circle cx="857.8" cy="187.5" r="1.2" fill="#c0407e" opacity="0.7"/>
<circle cx="851.3" cy="182.1" r="0.9" fill="#d870a8" opacity="0.7"/>
<circle cx="849.8" cy="179.9" r="0.6" fill="#c0407e" opacity="0.7"/>
<circle cx="855.8" cy="186.6" r="0.6" fill="#a02868" opacity="0.7"/>
<circle cx="852.2" cy="188.3" r="0.7" fill="#d870a8" opacity="0.7"/>
<circle cx="851.7" cy="180.9" r="1.1" fill="#a02868" opacity="0.7"/>
<circle cx="852.4" cy="181.1" r="1.0" fill="#c0407e" opacity="0.7"/>
<circle cx="853.8" cy="181.1" r="0.8" fill="#2a0618" opacity="0.7"/>
<circle cx="859.8" cy="184.9" r="0.7" fill="#c0407e" opacity="0.7"/>
<circle cx="857.0" cy="181.2" r="1.3" fill="#c0407e" opacity="0.7"/>
<circle cx="856.4" cy="190.5" r="0.6" fill="#a02868" opacity="0.7"/>
<circle cx="858.8" cy="183.7" r="0.7" fill="#d870a8" opacity="0.7"/>
<circle cx="855.3" cy="181.3" r="0.7" fill="#2a0618" opacity="0.7"/>
<circle cx="858.8" cy="184.4" r="1.2" fill="#d870a8" opacity="0.7"/>
<circle cx="854.7" cy="186.0" r="0.6" fill="#a02868" opacity="0.7"/>
<circle cx="857.0" cy="188.2" r="0.9" fill="#d870a8" opacity="0.7"/>
<circle cx="861.2" cy="183.6" r="0.9" fill="#a02868" opacity="0.7"/>
<circle cx="857.8" cy="186.6" r="0.7" fill="#2a0618" opacity="0.7"/>
<circle cx="859.9" cy="178.9" r="1.0" fill="#c0407e" opacity="0.7"/>
<ellipse cx="856.2" cy="208.9" rx="10.2" ry="8.9" fill="#1c3a70"/>
<ellipse cx="856.2" cy="208.9" rx="10.2" ry="8.9" fill="none" stroke="#2e5aa0" stroke-width="1" opacity="0.6"/>
<ellipse cx="856.4" cy="208.6" rx="8.2" ry="3.3" transform="rotate(-22 856.4 208.6)" fill="#86c0f4" stroke="#b8dcff" stroke-width="0.5"/>
<line x1="861.5" y1="236.2" x2="864.6" y2="236.6" stroke="#7a50e0" stroke-width="1.1"/><circle cx="864.8" cy="236.6" r="1.05" fill="#6a40d0"/><line x1="860.7" y1="238.6" x2="863.3" y2="240.2" stroke="#7a50e0" stroke-width="1.1"/><circle cx="863.5" cy="240.3" r="1.05" fill="#6a40d0"/><line x1="859.0" y1="240.3" x2="860.7" y2="242.9" stroke="#7a50e0" stroke-width="1.1"/><circle cx="860.8" cy="243.1" r="1.05" fill="#6a40d0"/><line x1="856.7" y1="241.2" x2="857.1" y2="244.2" stroke="#7a50e0" stroke-width="1.1"/><circle cx="857.1" cy="244.4" r="1.05" fill="#6a40d0"/><line x1="854.2" y1="240.9" x2="853.3" y2="243.9" stroke="#7a50e0" stroke-width="1.1"/><circle cx="853.2" cy="244.0" r="1.05" fill="#6a40d0"/><line x1="852.2" y1="239.6" x2="850.0" y2="241.9" stroke="#7a50e0" stroke-width="1.1"/><circle cx="849.9" cy="242.0" r="1.05" fill="#6a40d0"/><line x1="850.8" y1="237.6" x2="847.9" y2="238.6" stroke="#7a50e0" stroke-width="1.1"/><circle cx="847.7" cy="238.7" r="1.05" fill="#6a40d0"/><line x1="850.5" y1="235.2" x2="847.4" y2="234.8" stroke="#7a50e0" stroke-width="1.1"/><circle cx="847.2" cy="234.8" r="1.05" fill="#6a40d0"/><line x1="851.3" y1="232.8" x2="848.7" y2="231.2" stroke="#7a50e0" stroke-width="1.1"/><circle cx="848.5" cy="231.1" r="1.05" fill="#6a40d0"/><line x1="853.0" y1="231.1" x2="851.3" y2="228.5" stroke="#7a50e0" stroke-width="1.1"/><circle cx="851.2" cy="228.3" r="1.05" fill="#6a40d0"/><line x1="855.3" y1="230.2" x2="854.9" y2="227.2" stroke="#7a50e0" stroke-width="1.1"/><circle cx="854.9" cy="227.0" r="1.05" fill="#6a40d0"/><line x1="857.8" y1="230.5" x2="858.7" y2="227.5" stroke="#7a50e0" stroke-width="1.1"/><circle cx="858.8" cy="227.4" r="1.05" fill="#6a40d0"/><line x1="859.8" y1="231.8" x2="862.0" y2="229.5" stroke="#7a50e0" stroke-width="1.1"/><circle cx="862.1" cy="229.4" r="1.05" fill="#6a40d0"/><line x1="861.2" y1="233.8" x2="864.1" y2="232.8" stroke="#7a50e0" stroke-width="1.1"/><circle cx="864.3" cy="232.7" r="1.05" fill="#6a40d0"/>
<circle cx="856" cy="235.7" r="6.6" fill="#8458ea"/><path d="M851.5,236 Q855,232 860,233.5 M852,238.5 Q856,235.5 860.5,237" stroke="#b49af8" stroke-width="0.9" fill="none"/>
<polygon points="503.5,322.2 509.7,325.8 509.7,333.0 503.5,336.6 497.3,333.0 497.3,325.8" fill="none" stroke="#6a6a6a" stroke-width="0.85"/>
<line x1="504.1" y1="324.1" x2="507.8" y2="326.3" stroke="#6a6a6a" stroke-width="0.7"/>
<line x1="507.8" y1="332.5" x2="504.1" y2="334.7" stroke="#6a6a6a" stroke-width="0.7"/>
<line x1="498.6" y1="331.5" x2="498.6" y2="327.3" stroke="#6a6a6a" stroke-width="0.7"/>
<polygon points="525.0,331.2 531.9,335.2 531.9,343.2 525.0,347.2 518.1,343.2 518.1,335.2" fill="none" stroke="#6a6a6a" stroke-width="0.85"/>
<line x1="530.4" y1="336.8" x2="530.4" y2="341.6" stroke="#6a6a6a" stroke-width="0.7"/>
<line x1="520.2" y1="335.7" x2="524.4" y2="333.3" stroke="#6a6a6a" stroke-width="0.7"/>
<polygon points="518.0,343.3 524.9,347.3 524.9,355.3 518.0,359.3 511.1,355.3 511.1,347.3" fill="none" stroke="#6a6a6a" stroke-width="0.85"/>
<line x1="517.4" y1="357.2" x2="513.2" y2="354.8" stroke="#6a6a6a" stroke-width="0.7"/>
<line x1="523.4" y1="348.9" x2="523.4" y2="353.7" stroke="#6a6a6a" stroke-width="0.7"/>
<line x1="509.7" y1="333.0" x2="518.1" y2="335.2" stroke="#6a6a6a" stroke-width="0.85"/>
<line x1="497.3" y1="333.0" x2="492" y2="336.5" stroke="#6a6a6a" stroke-width="0.85"/>
<line x1="492" y1="336.5" x2="487" y2="333.8" stroke="#d04848" stroke-width="0.85"/>
<text x="484.6" y="335.6" font-family="'Liberation Serif', serif" font-size="4.6" fill="#d04848" text-anchor="middle">HO</text>
<line x1="531.9" y1="335.2" x2="537.5" y2="331.6" stroke="#6a6a6a" stroke-width="0.85"/>
<polygon points="538.4,324.7 545.0,320.9 551.6,324.7 551.6,332.3 545.0,336.1 538.4,332.3" fill="none" stroke="#6a6a6a" stroke-width="0.85"/>
<circle cx="551.6" cy="332.3" r="1.3" fill="#fff"/><text x="551.6" y="333.9" font-family="'Liberation Serif', serif" font-size="4.4" fill="#d04848" text-anchor="middle">O</text>
<text x="538.4" y="326.3" font-family="'Liberation Serif', serif" font-size="4.4" fill="#5a5ab8" text-anchor="middle">N</text>
<text x="511.1" y="348.9" font-family="'Liberation Serif', serif" font-size="4.2" fill="#5a5ab8" text-anchor="middle">N</text>
<line x1="511.1" y1="355.3" x2="505.5" y2="358.8" stroke="#6a6a6a" stroke-width="0.85"/>
<line x1="505.5" y1="358.8" x2="500.6" y2="355.6" stroke="#d04848" stroke-width="0.85"/>
<line x1="505" y1="360.3" x2="500" y2="357.1" stroke="#d04848" stroke-width="0.7"/>
<line x1="505.5" y1="358.8" x2="505.8" y2="364.2" stroke="#d04848" stroke-width="0.85"/>
<text x="506" y="367.6" font-family="'Liberation Serif', serif" font-size="4.4" fill="#d04848" text-anchor="middle">OH</text>
<line x1="524.9" y1="355.3" x2="532.6" y2="357.6" stroke="#6a6a6a" stroke-width="0.85"/>
<text x="533.6" y="360" font-family="'Liberation Serif', serif" font-size="4.4" fill="#5a5ab8" text-anchor="middle">N</text>
<line x1="533.6" y1="361" x2="533.6" y2="365.8" stroke="#6a6a6a" stroke-width="0.85"/>
<line x1="535" y1="357" x2="540.5" y2="354.6" stroke="#6a6a6a" stroke-width="0.85"/>
<line x1="540.5" y1="354.6" x2="547.4" y2="358.4" stroke="#6a6a6a" stroke-width="0.85"/>
<line x1="547.4" y1="358.4" x2="551.5" y2="355.8" stroke="#d04848" stroke-width="0.85"/>
<text x="555" y="357" font-family="'Liberation Serif', serif" font-size="4.4" fill="#d04848" text-anchor="middle">OH</text>
<rect x="598.0" y="318.4" width="8.1" height="11.5" fill="#c81818" stroke="#c8c8c8" stroke-width="0.4"/>
<rect x="606.1" y="318.4" width="8.1" height="11.5" fill="#ffffff" stroke="#c8c8c8" stroke-width="0.4"/>
<rect x="614.2" y="318.4" width="8.1" height="11.5" fill="#ffffff" stroke="#c8c8c8" stroke-width="0.4"/>
<rect x="622.3" y="318.4" width="8.1" height="11.5" fill="#c81818" stroke="#c8c8c8" stroke-width="0.4"/>
<rect x="630.4" y="318.4" width="8.1" height="11.5" fill="#c81818" stroke="#c8c8c8" stroke-width="0.4"/>
<rect x="638.5" y="318.4" width="8.1" height="11.5" fill="#ffffff" stroke="#c8c8c8" stroke-width="0.4"/>
<rect x="646.6" y="318.4" width="8.1" height="11.5" fill="#c81818" stroke="#c8c8c8" stroke-width="0.4"/>
<rect x="654.7" y="318.4" width="8.1" height="11.5" fill="#ffffff" stroke="#c8c8c8" stroke-width="0.4"/>
<rect x="598.0" y="343.9" width="8.1" height="10" fill="#fdf7e6" stroke="#c8c8c8" stroke-width="0.4"/>
<rect x="606.1" y="343.9" width="8.1" height="10" fill="#f6dcb4" stroke="#c8c8c8" stroke-width="0.4"/>
<rect x="614.2" y="343.9" width="8.1" height="10" fill="#fff4d2" stroke="#c8c8c8" stroke-width="0.4"/>
<rect x="622.3" y="343.9" width="8.1" height="10" fill="#f06c14" stroke="#c8c8c8" stroke-width="0.4"/>
<rect x="630.4" y="343.9" width="8.1" height="10" fill="#fff27a" stroke="#c8c8c8" stroke-width="0.4"/>
<rect x="638.5" y="343.9" width="8.1" height="10" fill="#f2c422" stroke="#c8c8c8" stroke-width="0.4"/>
<rect x="646.6" y="343.9" width="8.1" height="10" fill="#c2300e" stroke="#c8c8c8" stroke-width="0.4"/>
<rect x="654.7" y="343.9" width="8.1" height="10" fill="#b07c1c" stroke="#c8c8c8" stroke-width="0.4"/>
<rect x="598.0" y="364.8" width="8.1" height="10.5" fill="#3a6ad8" stroke="#c8c8c8" stroke-width="0.4"/>
<rect x="606.1" y="364.8" width="8.1" height="10.5" fill="#ffffff" stroke="#c8c8c8" stroke-width="0.4"/>
<rect x="614.2" y="364.8" width="8.1" height="10.5" fill="#ffffff" stroke="#c8c8c8" stroke-width="0.4"/>
<rect x="622.3" y="364.8" width="8.1" height="10.5" fill="#3a6ad8" stroke="#c8c8c8" stroke-width="0.4"/>
<rect x="630.4" y="364.8" width="8.1" height="10.5" fill="#3a6ad8" stroke="#c8c8c8" stroke-width="0.4"/>
<rect x="638.5" y="364.8" width="8.1" height="10.5" fill="#ffffff" stroke="#c8c8c8" stroke-width="0.4"/>
<rect x="646.6" y="364.8" width="8.1" height="10.5" fill="#3a6ad8" stroke="#c8c8c8" stroke-width="0.4"/>
<rect x="654.7" y="364.8" width="8.1" height="10.5" fill="#ffffff" stroke="#c8c8c8" stroke-width="0.4"/>
<line x1="743.8" y1="322.9" x2="771.6" y2="328.5" stroke="#666" stroke-width="0.45"/>
<line x1="743.8" y1="322.9" x2="771.6" y2="340.7" stroke="#666" stroke-width="0.45"/>
<line x1="743.8" y1="322.9" x2="771.6" y2="352.3" stroke="#666" stroke-width="0.45"/>
<line x1="743.8" y1="322.9" x2="771.6" y2="363.9" stroke="#666" stroke-width="0.45"/>
<line x1="743.8" y1="334.9" x2="771.6" y2="328.5" stroke="#666" stroke-width="0.45"/>
<line x1="743.8" y1="334.9" x2="771.6" y2="340.7" stroke="#666" stroke-width="0.45"/>
<line x1="743.8" y1="334.9" x2="771.6" y2="352.3" stroke="#666" stroke-width="0.45"/>
<line x1="743.8" y1="334.9" x2="771.6" y2="363.9" stroke="#666" stroke-width="0.45"/>
<line x1="743.8" y1="346.7" x2="771.6" y2="328.5" stroke="#666" stroke-width="0.45"/>
<line x1="743.8" y1="346.7" x2="771.6" y2="340.7" stroke="#666" stroke-width="0.45"/>
<line x1="743.8" y1="346.7" x2="771.6" y2="352.3" stroke="#666" stroke-width="0.45"/>
<line x1="743.8" y1="346.7" x2="771.6" y2="363.9" stroke="#666" stroke-width="0.45"/>
<line x1="743.8" y1="358.3" x2="771.6" y2="328.5" stroke="#666" stroke-width="0.45"/>
<line x1="743.8" y1="358.3" x2="771.6" y2="340.7" stroke="#666" stroke-width="0.45"/>
<line x1="743.8" y1="358.3" x2="771.6" y2="352.3" stroke="#666" stroke-width="0.45"/>
<line x1="743.8" y1="358.3" x2="771.6" y2="363.9" stroke="#666" stroke-width="0.45"/>
<line x1="743.8" y1="369.7" x2="771.6" y2="328.5" stroke="#666" stroke-width="0.45"/>
<line x1="743.8" y1="369.7" x2="771.6" y2="340.7" stroke="#666" stroke-width="0.45"/>
<line x1="743.8" y1="369.7" x2="771.6" y2="352.3" stroke="#666" stroke-width="0.45"/>
<line x1="743.8" y1="369.7" x2="771.6" y2="363.9" stroke="#666" stroke-width="0.45"/>
<line x1="777.6" y1="328.5" x2="802.1" y2="335.2" stroke="#666" stroke-width="0.45"/>
<line x1="777.6" y1="328.5" x2="802.1" y2="346.7" stroke="#666" stroke-width="0.45"/>
<line x1="777.6" y1="328.5" x2="802.1" y2="358.3" stroke="#666" stroke-width="0.45"/>
<line x1="777.6" y1="340.7" x2="802.1" y2="335.2" stroke="#666" stroke-width="0.45"/>
<line x1="777.6" y1="340.7" x2="802.1" y2="346.7" stroke="#666" stroke-width="0.45"/>
<line x1="777.6" y1="340.7" x2="802.1" y2="358.3" stroke="#666" stroke-width="0.45"/>
<line x1="777.6" y1="352.3" x2="802.1" y2="335.2" stroke="#666" stroke-width="0.45"/>
<line x1="777.6" y1="352.3" x2="802.1" y2="346.7" stroke="#666" stroke-width="0.45"/>
<line x1="777.6" y1="352.3" x2="802.1" y2="358.3" stroke="#666" stroke-width="0.45"/>
<line x1="777.6" y1="363.9" x2="802.1" y2="335.2" stroke="#666" stroke-width="0.45"/>
<line x1="777.6" y1="363.9" x2="802.1" y2="346.7" stroke="#666" stroke-width="0.45"/>
<line x1="777.6" y1="363.9" x2="802.1" y2="358.3" stroke="#666" stroke-width="0.45"/>
<ellipse cx="740.8" cy="322.9" rx="4.4" ry="3.6" fill="#5c9ee0" stroke="#3a4a6a" stroke-width="0.8"/>
<ellipse cx="740.8" cy="334.9" rx="4.4" ry="3.6" fill="#5c9ee0" stroke="#3a4a6a" stroke-width="0.8"/>
<ellipse cx="740.8" cy="346.7" rx="4.4" ry="3.6" fill="#5c9ee0" stroke="#3a4a6a" stroke-width="0.8"/>
<ellipse cx="740.8" cy="358.3" rx="4.4" ry="3.6" fill="#5c9ee0" stroke="#3a4a6a" stroke-width="0.8"/>
<ellipse cx="740.8" cy="369.7" rx="4.4" ry="3.6" fill="#5c9ee0" stroke="#3a4a6a" stroke-width="0.8"/>
<ellipse cx="774.6" cy="328.5" rx="4.4" ry="3.6" fill="#8a9e98" stroke="#3a4a6a" stroke-width="0.8"/>
<ellipse cx="774.6" cy="340.7" rx="4.4" ry="3.6" fill="#8a9e98" stroke="#3a4a6a" stroke-width="0.8"/>
<ellipse cx="774.6" cy="352.3" rx="4.4" ry="3.6" fill="#8a9e98" stroke="#3a4a6a" stroke-width="0.8"/>
<ellipse cx="774.6" cy="363.9" rx="4.4" ry="3.6" fill="#8a9e98" stroke="#3a4a6a" stroke-width="0.8"/>
<ellipse cx="805.1" cy="335.2" rx="4.4" ry="3.6" fill="#5c9ee0" stroke="#3a4a6a" stroke-width="0.8"/>
<ellipse cx="805.1" cy="346.7" rx="4.4" ry="3.6" fill="#5c9ee0" stroke="#3a4a6a" stroke-width="0.8"/>
<ellipse cx="805.1" cy="358.3" rx="4.4" ry="3.6" fill="#5c9ee0" stroke="#3a4a6a" stroke-width="0.8"/>
<rect x="852.8" y="314" width="63" height="60" rx="9" fill="#e2f1fc" stroke="#465868" stroke-width="1.4"/>
<text x="869.8" y="326.1" font-family="'Liberation Serif', serif" font-size="11.8" font-weight="bold" fill="#1c1c1c" stroke="#1c1c1c" stroke-width="0.1" textLength="23.4" lengthAdjust="spacingAndGlyphs">logP</text>
<text x="860.6" y="344" font-family="'Liberation Serif', serif" font-size="11.8" font-weight="bold" fill="#1c1c1c" stroke="#1c1c1c" stroke-width="0.1" textLength="50.6" lengthAdjust="spacingAndGlyphs">Solubility</text>
<text x="870.5" y="360.5" font-family="'Liberation Serif', serif" font-size="11.8" font-weight="bold" fill="#1c1c1c" stroke="#1c1c1c" stroke-width="0.1" textLength="26.4" lengthAdjust="spacingAndGlyphs">BBB</text>
<circle cx="878.8" cy="367.8" r="0.85" fill="#3a4048"/><circle cx="883.3" cy="367.8" r="0.85" fill="#3a4048"/><circle cx="887.8" cy="367.8" r="0.85" fill="#3a4048"/></svg>
</body></html>
